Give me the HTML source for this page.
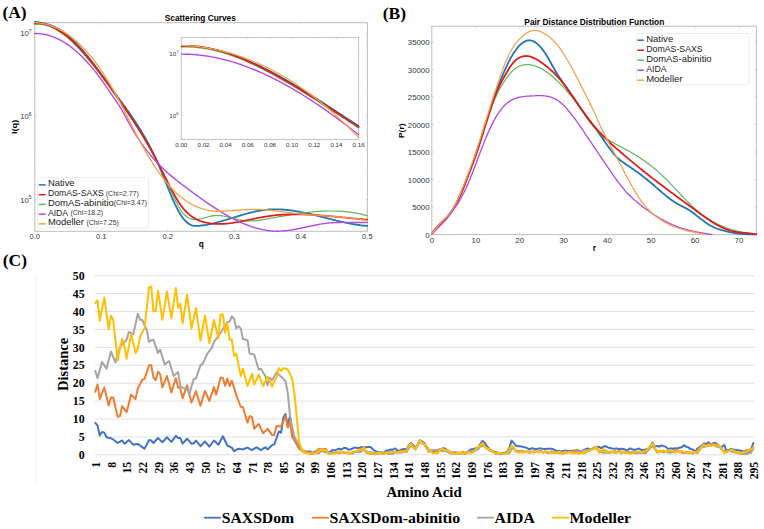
<!DOCTYPE html>
<html><head><meta charset="utf-8"><style>
html,body{margin:0;padding:0;background:#fff;}
body{width:764px;height:529px;overflow:hidden;}
svg{display:block;}
</style></head><body>
<svg width="764" height="529" viewBox="0 0 764 529">
<rect width="764" height="529" fill="#fff"/>
<text x="2.4" y="17.8" font-family='"Liberation Serif", serif' font-size="17.50" font-weight="bold" text-anchor="start" fill="#000" >(A)</text>
<text x="382.7" y="18.9" font-family='"Liberation Serif", serif' font-size="17.50" font-weight="bold" text-anchor="start" fill="#000" >(B)</text>
<text x="2.8" y="266.3" font-family='"Liberation Serif", serif' font-size="17.50" font-weight="bold" text-anchor="start" fill="#000" >(C)</text>
<rect x="34.8" y="22.7" width="332.6" height="208.6" fill="none" stroke="#bdbdbd" stroke-width="1"/>
<path d="M34.8 231.3v-2M34.8 22.7v2" stroke="#c4c4c4" stroke-width="0.7"/>
<text x="34.8" y="239.4" font-family='"Liberation Sans", sans-serif' font-size="7.60" font-weight="normal" text-anchor="middle" fill="#333" >0.0</text>
<path d="M101.3 231.3v-2M101.3 22.7v2" stroke="#c4c4c4" stroke-width="0.7"/>
<text x="101.3" y="239.4" font-family='"Liberation Sans", sans-serif' font-size="7.60" font-weight="normal" text-anchor="middle" fill="#333" >0.1</text>
<path d="M167.8 231.3v-2M167.8 22.7v2" stroke="#c4c4c4" stroke-width="0.7"/>
<text x="167.8" y="239.4" font-family='"Liberation Sans", sans-serif' font-size="7.60" font-weight="normal" text-anchor="middle" fill="#333" >0.2</text>
<path d="M234.4 231.3v-2M234.4 22.7v2" stroke="#c4c4c4" stroke-width="0.7"/>
<text x="234.4" y="239.4" font-family='"Liberation Sans", sans-serif' font-size="7.60" font-weight="normal" text-anchor="middle" fill="#333" >0.3</text>
<path d="M300.9 231.3v-2M300.9 22.7v2" stroke="#c4c4c4" stroke-width="0.7"/>
<text x="300.9" y="239.4" font-family='"Liberation Sans", sans-serif' font-size="7.60" font-weight="normal" text-anchor="middle" fill="#333" >0.4</text>
<path d="M367.4 231.3v-2M367.4 22.7v2" stroke="#c4c4c4" stroke-width="0.7"/>
<text x="367.4" y="239.4" font-family='"Liberation Sans", sans-serif' font-size="7.60" font-weight="normal" text-anchor="middle" fill="#333" >0.5</text>
<path d="M34.8 33.4h2M367.4 33.4h-2" stroke="#c4c4c4" stroke-width="0.7"/>
<text x="31.6" y="36.2" font-family='"Liberation Sans", sans-serif' font-size="7.60" font-weight="normal" text-anchor="end" fill="#333" >10<tspan font-size="5" dy="-3.2">7</tspan></text>
<path d="M34.8 116.5h2M367.4 116.5h-2" stroke="#c4c4c4" stroke-width="0.7"/>
<text x="31.6" y="119.3" font-family='"Liberation Sans", sans-serif' font-size="7.60" font-weight="normal" text-anchor="end" fill="#333" >10<tspan font-size="5" dy="-3.2">6</tspan></text>
<path d="M34.8 199.7h2M367.4 199.7h-2" stroke="#c4c4c4" stroke-width="0.7"/>
<text x="31.6" y="202.5" font-family='"Liberation Sans", sans-serif' font-size="7.60" font-weight="normal" text-anchor="end" fill="#333" >10<tspan font-size="5" dy="-3.2">5</tspan></text>
<path d="M34.8 91.5h1.2M367.4 91.5h-1.2" stroke="#d8d8d8" stroke-width="0.5"/>
<path d="M34.8 76.9h1.2M367.4 76.9h-1.2" stroke="#d8d8d8" stroke-width="0.5"/>
<path d="M34.8 66.5h1.2M367.4 66.5h-1.2" stroke="#d8d8d8" stroke-width="0.5"/>
<path d="M34.8 58.4h1.2M367.4 58.4h-1.2" stroke="#d8d8d8" stroke-width="0.5"/>
<path d="M34.8 51.8h1.2M367.4 51.8h-1.2" stroke="#d8d8d8" stroke-width="0.5"/>
<path d="M34.8 46.3h1.2M367.4 46.3h-1.2" stroke="#d8d8d8" stroke-width="0.5"/>
<path d="M34.8 41.5h1.2M367.4 41.5h-1.2" stroke="#d8d8d8" stroke-width="0.5"/>
<path d="M34.8 37.2h1.2M367.4 37.2h-1.2" stroke="#d8d8d8" stroke-width="0.5"/>
<path d="M34.8 91.5h1.2M367.4 91.5h-1.2" stroke="#d8d8d8" stroke-width="0.5"/>
<path d="M34.8 174.6h1.2M367.4 174.6h-1.2" stroke="#d8d8d8" stroke-width="0.5"/>
<path d="M34.8 76.8h1.2M367.4 76.8h-1.2" stroke="#d8d8d8" stroke-width="0.5"/>
<path d="M34.8 160.0h1.2M367.4 160.0h-1.2" stroke="#d8d8d8" stroke-width="0.5"/>
<path d="M34.8 66.4h1.2M367.4 66.4h-1.2" stroke="#d8d8d8" stroke-width="0.5"/>
<path d="M34.8 149.6h1.2M367.4 149.6h-1.2" stroke="#d8d8d8" stroke-width="0.5"/>
<path d="M34.8 58.4h1.2M367.4 58.4h-1.2" stroke="#d8d8d8" stroke-width="0.5"/>
<path d="M34.8 141.5h1.2M367.4 141.5h-1.2" stroke="#d8d8d8" stroke-width="0.5"/>
<path d="M34.8 51.8h1.2M367.4 51.8h-1.2" stroke="#d8d8d8" stroke-width="0.5"/>
<path d="M34.8 134.9h1.2M367.4 134.9h-1.2" stroke="#d8d8d8" stroke-width="0.5"/>
<path d="M34.8 46.2h1.2M367.4 46.2h-1.2" stroke="#d8d8d8" stroke-width="0.5"/>
<path d="M34.8 129.4h1.2M367.4 129.4h-1.2" stroke="#d8d8d8" stroke-width="0.5"/>
<path d="M34.8 41.4h1.2M367.4 41.4h-1.2" stroke="#d8d8d8" stroke-width="0.5"/>
<path d="M34.8 124.6h1.2M367.4 124.6h-1.2" stroke="#d8d8d8" stroke-width="0.5"/>
<path d="M34.8 37.2h1.2M367.4 37.2h-1.2" stroke="#d8d8d8" stroke-width="0.5"/>
<path d="M34.8 120.3h1.2M367.4 120.3h-1.2" stroke="#d8d8d8" stroke-width="0.5"/>
<path d="M34.8 174.7h1.2M367.4 174.7h-1.2" stroke="#d8d8d8" stroke-width="0.5"/>
<path d="M34.8 160.0h1.2M367.4 160.0h-1.2" stroke="#d8d8d8" stroke-width="0.5"/>
<path d="M34.8 149.6h1.2M367.4 149.6h-1.2" stroke="#d8d8d8" stroke-width="0.5"/>
<path d="M34.8 141.6h1.2M367.4 141.6h-1.2" stroke="#d8d8d8" stroke-width="0.5"/>
<path d="M34.8 224.7h1.2M367.4 224.7h-1.2" stroke="#d8d8d8" stroke-width="0.5"/>
<path d="M34.8 135.0h1.2M367.4 135.0h-1.2" stroke="#d8d8d8" stroke-width="0.5"/>
<path d="M34.8 218.1h1.2M367.4 218.1h-1.2" stroke="#d8d8d8" stroke-width="0.5"/>
<path d="M34.8 129.4h1.2M367.4 129.4h-1.2" stroke="#d8d8d8" stroke-width="0.5"/>
<path d="M34.8 212.6h1.2M367.4 212.6h-1.2" stroke="#d8d8d8" stroke-width="0.5"/>
<path d="M34.8 124.6h1.2M367.4 124.6h-1.2" stroke="#d8d8d8" stroke-width="0.5"/>
<path d="M34.8 207.8h1.2M367.4 207.8h-1.2" stroke="#d8d8d8" stroke-width="0.5"/>
<path d="M34.8 120.4h1.2M367.4 120.4h-1.2" stroke="#d8d8d8" stroke-width="0.5"/>
<path d="M34.8 203.5h1.2M367.4 203.5h-1.2" stroke="#d8d8d8" stroke-width="0.5"/>
<text x="200.3" y="20.7" font-family='"Liberation Sans", sans-serif' font-size="8.30" font-weight="bold" text-anchor="middle" fill="#000" textLength="71" lengthAdjust="spacingAndGlyphs">Scattering Curves</text>
<text x="201.2" y="247.3" font-family='"Liberation Sans", sans-serif' font-size="8.30" font-weight="bold" text-anchor="middle" fill="#000" >q</text>
<text transform="translate(17.2 126.9) rotate(-90)" font-family='"Liberation Sans", sans-serif' font-size="8.0" font-weight="bold" text-anchor="middle" textLength="14.2" lengthAdjust="spacingAndGlyphs">I(q)</text>
<g fill="none" stroke-linejoin="round" stroke-linecap="round">
<path d="M34.6 21.8L35.8 21.9L37.0 22.1L38.2 22.2L39.4 22.4L40.6 22.6L41.8 22.8L43.0 23.1L44.2 23.3L45.4 23.6L46.6 24.0L47.8 24.3L49.0 24.7L50.2 25.1L51.4 25.6L52.6 26.1L53.8 26.6L55.0 27.1L56.2 27.7L57.4 28.3L58.6 29.0L59.8 29.7L61.0 30.4L62.2 31.2L63.4 32.0L64.6 32.9L65.8 33.8L67.0 34.8L68.2 35.7L69.4 36.8L70.6 37.8L71.8 38.9L73.0 40.1L74.2 41.3L75.4 42.5L76.6 43.7L77.8 45.0L79.0 46.3L80.2 47.6L81.4 49.0L82.6 50.4L83.8 51.8L85.0 53.2L86.2 54.7L87.4 56.1L88.6 57.6L89.8 59.2L91.1 60.7L92.3 62.2L93.5 63.8L94.7 65.4L95.9 67.0L97.1 68.6L98.3 70.2L99.5 71.9L100.7 73.5L101.9 75.2L103.1 76.8L104.3 78.5L105.5 80.2L106.7 81.8L107.9 83.5L109.1 85.2L110.3 86.8L111.5 88.5L112.7 90.2L113.9 91.8L115.1 93.5L116.3 95.1L117.5 96.8L118.7 98.4L119.9 100.1L121.1 101.7L122.3 103.3L123.5 105.0L124.7 106.6L125.9 108.3L127.1 110.0L128.3 111.6L129.5 113.3L130.7 115.0L131.9 116.8L133.1 118.5L134.3 120.3L135.5 122.1L136.7 123.9L137.9 125.8L139.1 127.7L140.3 129.6L141.5 131.6L142.7 133.6L143.9 135.7L145.1 137.8L146.3 139.9L147.5 142.1L148.7 144.3L149.9 146.6L151.1 149.0L152.3 151.4L153.5 153.8L154.7 156.4L155.9 158.9L157.1 161.6L158.3 164.3L159.5 167.1L160.7 170.0L161.9 172.9L163.1 175.8L164.3 178.8L165.5 181.8L166.7 184.7L167.9 187.7L169.1 190.6L170.3 193.5L171.5 196.3L172.7 199.1L173.9 201.8L175.1 204.4L176.3 206.8L177.5 209.2L178.7 211.4L179.9 213.5L181.1 215.5L182.3 217.2L183.5 218.8L184.7 220.2L185.9 221.5L187.1 222.5L188.3 223.5L189.5 224.2L190.7 224.8L191.9 225.3L193.1 225.6L194.3 225.8L195.5 225.8L196.7 225.9L197.9 225.8L199.1 225.8L200.3 225.7L201.6 225.5L202.8 225.4L204.0 225.2L205.2 225.1L206.4 224.9L207.6 224.6L208.8 224.4L210.0 224.1L211.2 223.9L212.4 223.6L213.6 223.3L214.8 223.0L216.0 222.7L217.2 222.4L218.4 222.0L219.6 221.7L220.8 221.4L222.0 221.0L223.2 220.7L224.4 220.3L225.6 220.0L226.8 219.6L228.0 219.2L229.2 218.9L230.4 218.5L231.6 218.1L232.8 217.8L234.0 217.4L235.2 217.0L236.4 216.7L237.6 216.3L238.8 215.9L240.0 215.6L241.2 215.2L242.4 214.9L243.6 214.5L244.8 214.2L246.0 213.9L247.2 213.5L248.4 213.2L249.6 212.9L250.8 212.6L252.0 212.3L253.2 212.0L254.4 211.7L255.6 211.5L256.8 211.2L258.0 211.0L259.2 210.8L260.4 210.6L261.6 210.4L262.8 210.2L264.0 210.0L265.2 209.9L266.4 209.8L267.6 209.6L268.8 209.5L270.0 209.5L271.2 209.4L272.4 209.3L273.6 209.3L274.8 209.3L276.0 209.3L277.2 209.3L278.4 209.3L279.6 209.4L280.8 209.4L282.0 209.5L283.2 209.6L284.4 209.7L285.6 209.8L286.8 209.9L288.0 210.0L289.2 210.2L290.4 210.3L291.6 210.5L292.8 210.7L294.0 210.9L295.2 211.1L296.4 211.3L297.6 211.5L298.8 211.7L300.0 211.9L301.2 212.1L302.4 212.4L303.6 212.6L304.8 212.9L306.0 213.1L307.2 213.4L308.4 213.7L309.6 214.0L310.8 214.2L312.1 214.5L313.3 214.8L314.5 215.1L315.7 215.4L316.9 215.7L318.1 216.0L319.3 216.3L320.5 216.6L321.7 216.9L322.9 217.2L324.1 217.5L325.3 217.8L326.5 218.1L327.7 218.4L328.9 218.7L330.1 219.0L331.3 219.3L332.5 219.7L333.7 219.9L334.9 220.2L336.1 220.5L337.3 220.8L338.5 221.1L339.7 221.4L340.9 221.7L342.1 221.9L343.3 222.2L344.5 222.5L345.7 222.7L346.9 223.0L348.1 223.2L349.3 223.5L350.5 223.7L351.7 223.9L352.9 224.1L354.1 224.3L355.3 224.5L356.5 224.7L357.7 224.9L358.9 225.0L360.1 225.2L361.3 225.3L362.5 225.5L363.7 225.6L364.9 225.7L366.1 225.8L367.3 225.9" stroke="#1f77b4" stroke-width="1.8"/>
<path d="M34.6 24.5L35.8 24.3L37.0 24.3L38.2 24.3L39.4 24.3L40.6 24.4L41.8 24.5L43.0 24.7L44.2 24.9L45.4 25.2L46.6 25.5L47.8 25.9L49.0 26.3L50.2 26.8L51.4 27.3L52.6 27.8L53.8 28.4L55.0 29.0L56.2 29.7L57.4 30.4L58.6 31.1L59.8 31.9L61.0 32.7L62.2 33.5L63.4 34.4L64.6 35.3L65.8 36.3L67.0 37.3L68.2 38.3L69.4 39.3L70.6 40.4L71.8 41.5L73.0 42.7L74.2 43.8L75.4 45.0L76.6 46.3L77.8 47.5L79.0 48.8L80.2 50.1L81.4 51.4L82.6 52.7L83.8 54.1L85.0 55.5L86.2 56.9L87.4 58.3L88.6 59.8L89.8 61.3L91.1 62.8L92.3 64.3L93.5 65.8L94.7 67.3L95.9 68.9L97.1 70.4L98.3 72.0L99.5 73.6L100.7 75.2L101.9 76.8L103.1 78.4L104.3 80.1L105.5 81.7L106.7 83.4L107.9 85.0L109.1 86.7L110.3 88.4L111.5 90.1L112.7 91.7L113.9 93.4L115.1 95.1L116.3 96.8L117.5 98.5L118.7 100.2L119.9 101.9L121.1 103.6L122.3 105.3L123.5 107.0L124.7 108.8L125.9 110.5L127.1 112.2L128.3 114.0L129.5 115.7L130.7 117.5L131.9 119.3L133.1 121.1L134.3 122.9L135.5 124.8L136.7 126.6L137.9 128.5L139.1 130.4L140.3 132.3L141.5 134.3L142.7 136.2L143.9 138.2L145.1 140.2L146.3 142.3L147.5 144.3L148.7 146.4L149.9 148.6L151.1 150.7L152.3 152.9L153.5 155.1L154.7 157.4L155.9 159.7L157.1 162.0L158.3 164.3L159.5 166.7L160.7 169.2L161.9 171.6L163.1 174.1L164.3 176.6L165.5 179.2L166.7 181.7L167.9 184.3L169.1 186.9L170.3 189.5L171.5 192.1L172.7 194.6L173.9 197.2L175.1 199.7L176.3 202.1L177.5 204.5L178.7 206.7L179.9 208.7L181.1 210.6L182.3 212.3L183.5 213.7L184.7 215.0L185.9 216.1L187.1 217.0L188.3 217.7L189.5 218.3L190.7 218.8L191.9 219.1L193.1 219.3L194.3 219.4L195.5 219.5L196.7 219.4L197.9 219.3L199.1 219.1L200.3 218.9L201.6 218.7L202.8 218.4L204.0 218.0L205.2 217.7L206.4 217.4L207.6 217.0L208.8 216.7L210.0 216.4L211.2 216.1L212.4 215.9L213.6 215.7L214.8 215.6L216.0 215.5L217.2 215.5L218.4 215.5L219.6 215.6L220.8 215.7L222.0 215.8L223.2 216.0L224.4 216.2L225.6 216.4L226.8 216.6L228.0 216.9L229.2 217.2L230.4 217.5L231.6 217.8L232.8 218.1L234.0 218.4L235.2 218.7L236.4 219.0L237.6 219.3L238.8 219.6L240.0 219.8L241.2 220.1L242.4 220.3L243.6 220.5L244.8 220.7L246.0 220.8L247.2 220.9L248.4 220.9L249.6 221.0L250.8 221.0L252.0 220.9L253.2 220.9L254.4 220.8L255.6 220.7L256.8 220.6L258.0 220.4L259.2 220.3L260.4 220.1L261.6 219.9L262.8 219.7L264.0 219.5L265.2 219.3L266.4 219.1L267.6 218.9L268.8 218.6L270.0 218.4L271.2 218.2L272.4 218.0L273.6 217.8L274.8 217.6L276.0 217.4L277.2 217.1L278.4 216.9L279.6 216.7L280.8 216.5L282.0 216.3L283.2 216.1L284.4 215.9L285.6 215.7L286.8 215.5L288.0 215.3L289.2 215.1L290.4 214.9L291.6 214.7L292.8 214.5L294.0 214.3L295.2 214.1L296.4 213.9L297.6 213.7L298.8 213.6L300.0 213.4L301.2 213.2L302.4 213.1L303.6 212.9L304.8 212.8L306.0 212.6L307.2 212.5L308.4 212.3L309.6 212.2L310.8 212.1L312.1 212.0L313.3 211.9L314.5 211.7L315.7 211.6L316.9 211.5L318.1 211.5L319.3 211.4L320.5 211.3L321.7 211.2L322.9 211.2L324.1 211.1L325.3 211.1L326.5 211.0L327.7 211.0L328.9 211.0L330.1 211.0L331.3 211.0L332.5 211.0L333.7 211.0L334.9 211.0L336.1 211.0L337.3 211.1L338.5 211.1L339.7 211.2L340.9 211.3L342.1 211.4L343.3 211.4L344.5 211.6L345.7 211.7L346.9 211.8L348.1 211.9L349.3 212.1L350.5 212.2L351.7 212.4L352.9 212.6L354.1 212.8L355.3 213.0L356.5 213.2L357.7 213.4L358.9 213.7L360.1 213.9L361.3 214.2L362.5 214.5L363.7 214.8L364.9 215.1L366.1 215.4L367.3 215.8" stroke="#5cb85c" stroke-width="1.2"/>
<path d="M34.6 23.0L35.8 23.0L37.0 23.0L38.2 23.1L39.4 23.2L40.6 23.3L41.8 23.5L43.0 23.8L44.2 24.0L45.4 24.3L46.6 24.7L47.8 25.1L49.0 25.5L50.2 25.9L51.4 26.4L52.6 27.0L53.8 27.5L55.0 28.1L56.2 28.8L57.4 29.4L58.6 30.2L59.8 30.9L61.0 31.7L62.2 32.5L63.4 33.4L64.6 34.3L65.8 35.2L67.0 36.1L68.2 37.1L69.4 38.2L70.6 39.2L71.8 40.3L73.0 41.4L74.2 42.6L75.4 43.8L76.6 45.0L77.8 46.2L79.0 47.5L80.2 48.7L81.4 50.1L82.6 51.4L83.8 52.7L85.0 54.1L86.2 55.5L87.4 57.0L88.6 58.4L89.8 59.9L91.1 61.4L92.3 62.9L93.5 64.4L94.7 65.9L95.9 67.5L97.1 69.0L98.3 70.6L99.5 72.2L100.7 73.8L101.9 75.5L103.1 77.1L104.3 78.8L105.5 80.4L106.7 82.1L107.9 83.8L109.1 85.4L110.3 87.1L111.5 88.8L112.7 90.5L113.9 92.2L115.1 94.0L116.3 95.7L117.5 97.4L118.7 99.1L119.9 100.8L121.1 102.6L122.3 104.3L123.5 106.1L124.7 107.8L125.9 109.6L127.1 111.3L128.3 113.1L129.5 114.9L130.7 116.7L131.9 118.5L133.1 120.4L134.3 122.2L135.5 124.1L136.7 126.0L137.9 127.8L139.1 129.8L140.3 131.7L141.5 133.6L142.7 135.6L143.9 137.6L145.1 139.6L146.3 141.7L147.5 143.7L148.7 145.8L149.9 147.9L151.1 150.0L152.3 152.2L153.5 154.4L154.7 156.6L155.9 158.9L157.1 161.2L158.3 163.5L159.5 165.8L160.7 168.2L161.9 170.6L163.1 173.0L164.3 175.4L165.5 177.8L166.7 180.2L167.9 182.6L169.1 184.9L170.3 187.3L171.5 189.6L172.7 191.8L173.9 194.0L175.1 196.1L176.3 198.2L177.5 200.2L178.7 202.1L179.9 203.9L181.1 205.6L182.3 207.2L183.5 208.7L184.7 210.1L185.9 211.4L187.1 212.6L188.3 213.7L189.5 214.7L190.7 215.7L191.9 216.6L193.1 217.4L194.3 218.1L195.5 218.8L196.7 219.4L197.9 220.0L199.1 220.5L200.3 221.0L201.6 221.4L202.8 221.8L204.0 222.2L205.2 222.5L206.4 222.7L207.6 223.0L208.8 223.2L210.0 223.4L211.2 223.5L212.4 223.7L213.6 223.8L214.8 223.8L216.0 223.9L217.2 223.9L218.4 224.0L219.6 223.9L220.8 223.9L222.0 223.9L223.2 223.8L224.4 223.8L225.6 223.7L226.8 223.6L228.0 223.5L229.2 223.3L230.4 223.2L231.6 223.0L232.8 222.9L234.0 222.7L235.2 222.5L236.4 222.3L237.6 222.1L238.8 221.9L240.0 221.7L241.2 221.4L242.4 221.2L243.6 221.0L244.8 220.7L246.0 220.5L247.2 220.2L248.4 220.0L249.6 219.7L250.8 219.5L252.0 219.2L253.2 219.0L254.4 218.7L255.6 218.5L256.8 218.2L258.0 218.0L259.2 217.7L260.4 217.5L261.6 217.3L262.8 217.1L264.0 216.9L265.2 216.7L266.4 216.5L267.6 216.3L268.8 216.1L270.0 215.9L271.2 215.8L272.4 215.6L273.6 215.5L274.8 215.3L276.0 215.2L277.2 215.1L278.4 215.0L279.6 214.9L280.8 214.8L282.0 214.7L283.2 214.7L284.4 214.6L285.6 214.5L286.8 214.5L288.0 214.4L289.2 214.4L290.4 214.4L291.6 214.3L292.8 214.3L294.0 214.3L295.2 214.3L296.4 214.3L297.6 214.3L298.8 214.3L300.0 214.4L301.2 214.4L302.4 214.4L303.6 214.4L304.8 214.5L306.0 214.5L307.2 214.6L308.4 214.6L309.6 214.7L310.8 214.7L312.1 214.8L313.3 214.9L314.5 215.0L315.7 215.0L316.9 215.1L318.1 215.2L319.3 215.3L320.5 215.4L321.7 215.5L322.9 215.6L324.1 215.7L325.3 215.8L326.5 215.9L327.7 216.0L328.9 216.1L330.1 216.2L331.3 216.3L332.5 216.4L333.7 216.5L334.9 216.6L336.1 216.8L337.3 216.9L338.5 217.0L339.7 217.1L340.9 217.2L342.1 217.3L343.3 217.5L344.5 217.6L345.7 217.7L346.9 217.8L348.1 217.9L349.3 218.1L350.5 218.2L351.7 218.3L352.9 218.4L354.1 218.5L355.3 218.6L356.5 218.7L357.7 218.8L358.9 219.0L360.1 219.1L361.3 219.2L362.5 219.3L363.7 219.4L364.9 219.5L366.1 219.5L367.3 219.6" stroke="#e01b1b" stroke-width="1.75"/>
<path d="M34.6 33.5L35.8 33.5L37.0 33.5L38.2 33.6L39.4 33.6L40.6 33.7L41.8 33.9L43.0 34.1L44.2 34.3L45.4 34.5L46.6 34.8L47.8 35.1L49.0 35.4L50.2 35.8L51.4 36.2L52.6 36.6L53.8 37.1L55.0 37.5L56.2 38.1L57.4 38.6L58.6 39.2L59.8 39.8L61.0 40.4L62.2 41.1L63.4 41.8L64.6 42.5L65.8 43.3L67.0 44.1L68.2 44.9L69.4 45.8L70.6 46.7L71.8 47.6L73.0 48.6L74.2 49.5L75.4 50.5L76.6 51.6L77.8 52.7L79.0 53.8L80.2 54.9L81.4 56.1L82.6 57.3L83.8 58.5L85.0 59.7L86.2 61.0L87.4 62.3L88.6 63.7L89.8 65.1L91.1 66.5L92.3 67.9L93.5 69.4L94.7 70.9L95.9 72.4L97.1 74.0L98.3 75.6L99.5 77.2L100.7 78.8L101.9 80.5L103.1 82.2L104.3 83.9L105.5 85.7L106.7 87.4L107.9 89.2L109.1 90.9L110.3 92.7L111.5 94.4L112.7 96.1L113.9 97.8L115.1 99.5L116.3 101.3L117.5 103.1L118.7 104.9L119.9 106.8L121.1 108.7L122.3 110.8L123.5 112.9L124.7 115.1L125.9 117.3L127.1 119.6L128.3 121.8L129.5 124.0L130.7 126.2L131.9 128.3L133.1 130.3L134.3 132.3L135.5 134.3L136.7 136.2L137.9 138.0L139.1 139.9L140.3 141.6L141.5 143.4L142.7 145.0L143.9 146.7L145.1 148.3L146.3 149.9L147.5 151.4L148.7 152.9L149.9 154.4L151.1 155.8L152.3 157.2L153.5 158.6L154.7 159.9L155.9 161.2L157.1 162.5L158.3 163.8L159.5 165.0L160.7 166.2L161.9 167.4L163.1 168.6L164.3 169.7L165.5 170.8L166.7 171.9L167.9 173.0L169.1 174.0L170.3 175.1L171.5 176.1L172.7 177.1L173.9 178.1L175.1 179.1L176.3 180.0L177.5 181.0L178.7 181.9L179.9 182.9L181.1 183.8L182.3 184.7L183.5 185.6L184.7 186.5L185.9 187.4L187.1 188.3L188.3 189.2L189.5 190.1L190.7 191.0L191.9 191.9L193.1 192.8L194.3 193.7L195.5 194.6L196.7 195.4L197.9 196.3L199.1 197.2L200.3 198.0L201.6 198.9L202.8 199.7L204.0 200.6L205.2 201.4L206.4 202.3L207.6 203.1L208.8 203.9L210.0 204.7L211.2 205.5L212.4 206.3L213.6 207.1L214.8 207.9L216.0 208.7L217.2 209.4L218.4 210.2L219.6 210.9L220.8 211.7L222.0 212.4L223.2 213.1L224.4 213.8L225.6 214.5L226.8 215.2L228.0 215.9L229.2 216.6L230.4 217.2L231.6 217.8L232.8 218.5L234.0 219.1L235.2 219.7L236.4 220.3L237.6 220.9L238.8 221.4L240.0 222.0L241.2 222.5L242.4 223.1L243.6 223.6L244.8 224.1L246.0 224.6L247.2 225.0L248.4 225.5L249.6 225.9L250.8 226.3L252.0 226.8L253.2 227.1L254.4 227.5L255.6 227.9L256.8 228.2L258.0 228.5L259.2 228.8L260.4 229.1L261.6 229.4L262.8 229.7L264.0 229.9L265.2 230.1L266.4 230.3L267.6 230.5L268.8 230.6L270.0 230.8L271.2 230.9L272.4 231.0L273.6 231.1L274.8 231.1L276.0 231.2L277.2 231.2L278.4 231.2L279.6 231.1L280.8 231.1L282.0 231.0L283.2 230.9L284.4 230.8L285.6 230.7L286.8 230.6L288.0 230.4L289.2 230.3L290.4 230.1L291.6 229.9L292.8 229.7L294.0 229.5L295.2 229.3L296.4 229.0L297.6 228.8L298.8 228.6L300.0 228.3L301.2 228.1L302.4 227.8L303.6 227.6L304.8 227.3L306.0 227.0L307.2 226.8L308.4 226.5L309.6 226.3L310.8 226.0L312.1 225.8L313.3 225.5L314.5 225.3L315.7 225.0L316.9 224.8L318.1 224.6L319.3 224.3L320.5 224.1L321.7 223.9L322.9 223.8L324.1 223.6L325.3 223.4L326.5 223.3L327.7 223.1L328.9 223.0L330.1 222.9L331.3 222.8L332.5 222.7L333.7 222.7L334.9 222.6L336.1 222.6L337.3 222.5L338.5 222.5L339.7 222.5L340.9 222.5L342.1 222.4L343.3 222.4L344.5 222.4L345.7 222.4L346.9 222.5L348.1 222.5L349.3 222.5L350.5 222.5L351.7 222.5L352.9 222.5L354.1 222.5L355.3 222.5L356.5 222.5L357.7 222.5L358.9 222.5L360.1 222.5L361.3 222.5L362.5 222.5L363.7 222.5L364.9 222.5L366.1 222.4L367.3 222.4" stroke="#b44be1" stroke-width="1.4"/>
<path d="M34.6 22.5L35.8 22.6L37.0 22.7L38.2 22.8L39.4 22.9L40.6 23.1L41.8 23.3L43.0 23.5L44.2 23.8L45.4 24.1L46.6 24.4L47.8 24.7L49.0 25.1L50.2 25.5L51.4 25.9L52.6 26.3L53.8 26.8L55.0 27.3L56.2 27.8L57.4 28.4L58.6 29.0L59.8 29.6L61.0 30.3L62.2 30.9L63.4 31.7L64.6 32.4L65.8 33.2L67.0 34.0L68.2 34.8L69.4 35.7L70.6 36.6L71.8 37.5L73.0 38.4L74.2 39.4L75.4 40.5L76.6 41.5L77.8 42.6L79.0 43.7L80.2 44.9L81.4 46.0L82.6 47.3L83.8 48.5L85.0 49.8L86.2 51.1L87.4 52.5L88.6 53.8L89.8 55.3L91.1 56.7L92.3 58.2L93.5 59.7L94.7 61.3L95.9 62.9L97.1 64.5L98.3 66.2L99.5 67.9L100.7 69.6L101.9 71.4L103.1 73.2L104.3 75.0L105.5 76.9L106.7 78.8L107.9 80.8L109.1 82.8L110.3 84.8L111.5 86.8L112.7 88.9L113.9 91.1L115.1 93.2L116.3 95.4L117.5 97.6L118.7 99.9L119.9 102.2L121.1 104.4L122.3 106.8L123.5 109.1L124.7 111.5L125.9 113.8L127.1 116.2L128.3 118.6L129.5 121.0L130.7 123.4L131.9 125.8L133.1 128.2L134.3 130.5L135.5 132.9L136.7 135.2L137.9 137.5L139.1 139.8L140.3 142.0L141.5 144.2L142.7 146.4L143.9 148.5L145.1 150.6L146.3 152.7L147.5 154.8L148.7 156.8L149.9 158.7L151.1 160.7L152.3 162.6L153.5 164.5L154.7 166.3L155.9 168.1L157.1 169.8L158.3 171.6L159.5 173.3L160.7 174.9L161.9 176.5L163.1 178.1L164.3 179.7L165.5 181.2L166.7 182.6L167.9 184.0L169.1 185.4L170.3 186.8L171.5 188.1L172.7 189.3L173.9 190.5L175.1 191.7L176.3 192.9L177.5 194.0L178.7 195.0L179.9 196.1L181.1 197.1L182.3 198.0L183.5 198.9L184.7 199.8L185.9 200.7L187.1 201.5L188.3 202.2L189.5 203.0L190.7 203.7L191.9 204.3L193.1 205.0L194.3 205.6L195.5 206.2L196.7 206.7L197.9 207.2L199.1 207.7L200.3 208.1L201.6 208.5L202.8 208.9L204.0 209.2L205.2 209.6L206.4 209.9L207.6 210.1L208.8 210.3L210.0 210.6L211.2 210.7L212.4 210.9L213.6 211.0L214.8 211.1L216.0 211.2L217.2 211.2L218.4 211.2L219.6 211.2L220.8 211.2L222.0 211.2L223.2 211.2L224.4 211.1L225.6 211.0L226.8 211.0L228.0 210.9L229.2 210.8L230.4 210.7L231.6 210.6L232.8 210.5L234.0 210.4L235.2 210.3L236.4 210.2L237.6 210.1L238.8 210.0L240.0 209.9L241.2 209.8L242.4 209.7L243.6 209.6L244.8 209.6L246.0 209.5L247.2 209.5L248.4 209.4L249.6 209.4L250.8 209.4L252.0 209.4L253.2 209.3L254.4 209.3L255.6 209.4L256.8 209.4L258.0 209.4L259.2 209.5L260.4 209.5L261.6 209.6L262.8 209.6L264.0 209.7L265.2 209.8L266.4 209.9L267.6 210.0L268.8 210.1L270.0 210.2L271.2 210.4L272.4 210.5L273.6 210.6L274.8 210.8L276.0 210.9L277.2 211.0L278.4 211.2L279.6 211.3L280.8 211.5L282.0 211.7L283.2 211.8L284.4 212.0L285.6 212.1L286.8 212.3L288.0 212.4L289.2 212.6L290.4 212.7L291.6 212.9L292.8 213.1L294.0 213.2L295.2 213.3L296.4 213.5L297.6 213.6L298.8 213.8L300.0 213.9L301.2 214.0L302.4 214.1L303.6 214.2L304.8 214.4L306.0 214.5L307.2 214.6L308.4 214.7L309.6 214.8L310.8 214.9L312.1 215.0L313.3 215.1L314.5 215.1L315.7 215.2L316.9 215.3L318.1 215.4L319.3 215.5L320.5 215.6L321.7 215.7L322.9 215.7L324.1 215.8L325.3 215.9L326.5 216.0L327.7 216.1L328.9 216.2L330.1 216.2L331.3 216.3L332.5 216.4L333.7 216.5L334.9 216.6L336.1 216.7L337.3 216.8L338.5 216.9L339.7 217.0L340.9 217.1L342.1 217.2L343.3 217.3L344.5 217.4L345.7 217.6L346.9 217.7L348.1 217.8L349.3 217.9L350.5 218.1L351.7 218.2L352.9 218.4L354.1 218.5L355.3 218.7L356.5 218.9L357.7 219.0L358.9 219.2L360.1 219.4L361.3 219.6L362.5 219.8L363.7 220.0L364.9 220.2L366.1 220.4L367.3 220.7" stroke="#f5a24b" stroke-width="1.35"/>
</g>
<rect x="181.3" y="37.6" width="177.3" height="102.0" fill="#fff" stroke="#bdbdbd" stroke-width="0.9"/>
<path d="M181.3 139.6v-1.5M181.3 37.6v1.5" stroke="#c4c4c4" stroke-width="0.6"/>
<text x="181.3" y="146.8" font-family='"Liberation Sans", sans-serif' font-size="6.20" font-weight="normal" text-anchor="middle" fill="#333" >0.00</text>
<path d="M203.5 139.6v-1.5M203.5 37.6v1.5" stroke="#c4c4c4" stroke-width="0.6"/>
<text x="203.5" y="146.8" font-family='"Liberation Sans", sans-serif' font-size="6.20" font-weight="normal" text-anchor="middle" fill="#333" >0.02</text>
<path d="M225.6 139.6v-1.5M225.6 37.6v1.5" stroke="#c4c4c4" stroke-width="0.6"/>
<text x="225.6" y="146.8" font-family='"Liberation Sans", sans-serif' font-size="6.20" font-weight="normal" text-anchor="middle" fill="#333" >0.04</text>
<path d="M247.8 139.6v-1.5M247.8 37.6v1.5" stroke="#c4c4c4" stroke-width="0.6"/>
<text x="247.8" y="146.8" font-family='"Liberation Sans", sans-serif' font-size="6.20" font-weight="normal" text-anchor="middle" fill="#333" >0.06</text>
<path d="M270.0 139.6v-1.5M270.0 37.6v1.5" stroke="#c4c4c4" stroke-width="0.6"/>
<text x="270.0" y="146.8" font-family='"Liberation Sans", sans-serif' font-size="6.20" font-weight="normal" text-anchor="middle" fill="#333" >0.08</text>
<path d="M292.1 139.6v-1.5M292.1 37.6v1.5" stroke="#c4c4c4" stroke-width="0.6"/>
<text x="292.1" y="146.8" font-family='"Liberation Sans", sans-serif' font-size="6.20" font-weight="normal" text-anchor="middle" fill="#333" >0.10</text>
<path d="M314.3 139.6v-1.5M314.3 37.6v1.5" stroke="#c4c4c4" stroke-width="0.6"/>
<text x="314.3" y="146.8" font-family='"Liberation Sans", sans-serif' font-size="6.20" font-weight="normal" text-anchor="middle" fill="#333" >0.12</text>
<path d="M336.4 139.6v-1.5M336.4 37.6v1.5" stroke="#c4c4c4" stroke-width="0.6"/>
<text x="336.4" y="146.8" font-family='"Liberation Sans", sans-serif' font-size="6.20" font-weight="normal" text-anchor="middle" fill="#333" >0.14</text>
<path d="M358.6 139.6v-1.5M358.6 37.6v1.5" stroke="#c4c4c4" stroke-width="0.6"/>
<text x="358.6" y="146.8" font-family='"Liberation Sans", sans-serif' font-size="6.20" font-weight="normal" text-anchor="middle" fill="#333" >0.16</text>
<path d="M181.3 53.6h1.5M358.6 53.6h-1.5" stroke="#c4c4c4" stroke-width="0.6"/>
<text x="178.6" y="55.9" font-family='"Liberation Sans", sans-serif' font-size="6.20" font-weight="normal" text-anchor="end" fill="#333" >10<tspan font-size="4.2" dy="-2.6">7</tspan></text>
<path d="M181.3 115.3h1.5M358.6 115.3h-1.5" stroke="#c4c4c4" stroke-width="0.6"/>
<text x="178.6" y="117.6" font-family='"Liberation Sans", sans-serif' font-size="6.20" font-weight="normal" text-anchor="end" fill="#333" >10<tspan font-size="4.2" dy="-2.6">6</tspan></text>
<g fill="none" stroke-linejoin="round" stroke-linecap="round">
<path d="M181.6 45.8L182.8 45.8L184.0 45.8L185.2 45.8L186.4 45.9L187.6 45.9L188.8 45.9L190.0 46.0L191.2 46.1L192.4 46.2L193.6 46.2L194.8 46.3L196.0 46.5L197.3 46.6L198.5 46.7L199.7 46.9L200.9 47.0L202.1 47.2L203.3 47.4L204.5 47.6L205.7 47.8L206.9 48.0L208.1 48.2L209.3 48.4L210.5 48.7L211.7 48.9L212.9 49.2L214.1 49.5L215.3 49.8L216.5 50.0L217.7 50.3L218.9 50.7L220.1 51.0L221.3 51.3L222.5 51.6L223.7 52.0L224.9 52.3L226.2 52.7L227.4 53.1L228.6 53.5L229.8 53.9L231.0 54.3L232.2 54.7L233.4 55.1L234.6 55.5L235.8 55.9L237.0 56.4L238.2 56.8L239.4 57.3L240.6 57.7L241.8 58.2L243.0 58.7L244.2 59.2L245.4 59.7L246.6 60.2L247.8 60.7L249.0 61.2L250.2 61.7L251.4 62.2L252.6 62.8L253.8 63.3L255.0 63.9L256.3 64.4L257.5 65.0L258.7 65.6L259.9 66.1L261.1 66.7L262.3 67.3L263.5 67.9L264.7 68.5L265.9 69.1L267.1 69.7L268.3 70.3L269.5 71.0L270.7 71.6L271.9 72.2L273.1 72.9L274.3 73.5L275.5 74.2L276.7 74.8L277.9 75.5L279.1 76.1L280.3 76.8L281.5 77.5L282.7 78.2L283.9 78.8L285.2 79.5L286.4 80.2L287.6 80.9L288.8 81.6L290.0 82.3L291.2 83.0L292.4 83.7L293.6 84.4L294.8 85.2L296.0 85.9L297.2 86.6L298.4 87.3L299.6 88.1L300.8 88.8L302.0 89.5L303.2 90.3L304.4 91.0L305.6 91.8L306.8 92.5L308.0 93.3L309.2 94.0L310.4 94.8L311.6 95.5L312.8 96.3L314.0 97.1L315.3 97.8L316.5 98.6L317.7 99.4L318.9 100.2L320.1 100.9L321.3 101.7L322.5 102.5L323.7 103.3L324.9 104.0L326.1 104.8L327.3 105.6L328.5 106.4L329.7 107.2L330.9 107.9L332.1 108.7L333.3 109.5L334.5 110.3L335.7 111.1L336.9 111.9L338.1 112.7L339.3 113.5L340.5 114.3L341.7 115.0L342.9 115.8L344.2 116.6L345.4 117.4L346.6 118.2L347.8 119.0L349.0 119.8L350.2 120.6L351.4 121.3L352.6 122.1L353.8 122.9L355.0 123.7L356.2 124.5L357.4 125.3L358.6 126.0" stroke="#1f77b4" stroke-width="1.7"/>
<path d="M181.6 47.1L182.8 47.0L184.0 47.0L185.2 47.0L186.4 47.0L187.6 47.0L188.8 47.0L190.0 47.1L191.2 47.1L192.4 47.2L193.6 47.3L194.8 47.4L196.0 47.5L197.3 47.6L198.5 47.7L199.7 47.9L200.9 48.0L202.1 48.2L203.3 48.4L204.5 48.6L205.7 48.8L206.9 49.0L208.1 49.2L209.3 49.4L210.5 49.7L211.7 49.9L212.9 50.2L214.1 50.5L215.3 50.8L216.5 51.1L217.7 51.4L218.9 51.7L220.1 52.0L221.3 52.4L222.5 52.7L223.7 53.1L224.9 53.5L226.2 53.8L227.4 54.2L228.6 54.6L229.8 55.0L231.0 55.5L232.2 55.9L233.4 56.3L234.6 56.8L235.8 57.2L237.0 57.7L238.2 58.1L239.4 58.6L240.6 59.1L241.8 59.6L243.0 60.1L244.2 60.6L245.4 61.1L246.6 61.6L247.8 62.2L249.0 62.7L250.2 63.2L251.4 63.8L252.6 64.3L253.8 64.9L255.0 65.5L256.3 66.1L257.5 66.6L258.7 67.2L259.9 67.8L261.1 68.4L262.3 69.0L263.5 69.6L264.7 70.3L265.9 70.9L267.1 71.5L268.3 72.1L269.5 72.8L270.7 73.4L271.9 74.1L273.1 74.7L274.3 75.4L275.5 76.0L276.7 76.7L277.9 77.4L279.1 78.1L280.3 78.7L281.5 79.4L282.7 80.1L283.9 80.8L285.2 81.5L286.4 82.2L287.6 82.9L288.8 83.6L290.0 84.3L291.2 85.0L292.4 85.7L293.6 86.4L294.8 87.2L296.0 87.9L297.2 88.6L298.4 89.4L299.6 90.1L300.8 90.8L302.0 91.6L303.2 92.3L304.4 93.0L305.6 93.8L306.8 94.5L308.0 95.3L309.2 96.1L310.4 96.8L311.6 97.6L312.8 98.3L314.0 99.1L315.3 99.9L316.5 100.6L317.7 101.4L318.9 102.2L320.1 102.9L321.3 103.7L322.5 104.5L323.7 105.3L324.9 106.0L326.1 106.8L327.3 107.6L328.5 108.4L329.7 109.2L330.9 109.9L332.1 110.7L333.3 111.5L334.5 112.3L335.7 113.1L336.9 113.9L338.1 114.7L339.3 115.4L340.5 116.2L341.7 117.0L342.9 117.8L344.2 118.6L345.4 119.4L346.6 120.2L347.8 121.0L349.0 121.8L350.2 122.5L351.4 123.3L352.6 124.1L353.8 124.9L355.0 125.7L356.2 126.5L357.4 127.3L358.6 128.1" stroke="#5cb85c" stroke-width="1.1"/>
<path d="M181.6 46.0L182.8 45.9L184.0 45.9L185.2 45.9L186.4 45.9L187.6 45.9L188.8 45.9L190.0 46.0L191.2 46.0L192.4 46.1L193.6 46.2L194.8 46.3L196.0 46.4L197.3 46.5L198.5 46.6L199.7 46.8L200.9 46.9L202.1 47.1L203.3 47.3L204.5 47.5L205.7 47.7L206.9 47.9L208.1 48.1L209.3 48.3L210.5 48.6L211.7 48.8L212.9 49.1L214.1 49.4L215.3 49.7L216.5 50.0L217.7 50.3L218.9 50.6L220.1 50.9L221.3 51.3L222.5 51.6L223.7 52.0L224.9 52.4L226.2 52.7L227.4 53.1L228.6 53.5L229.8 53.9L231.0 54.4L232.2 54.8L233.4 55.2L234.6 55.7L235.8 56.1L237.0 56.6L238.2 57.0L239.4 57.5L240.6 58.0L241.8 58.5L243.0 59.0L244.2 59.5L245.4 60.0L246.6 60.5L247.8 61.1L249.0 61.6L250.2 62.1L251.4 62.7L252.6 63.2L253.8 63.8L255.0 64.4L256.3 65.0L257.5 65.5L258.7 66.1L259.9 66.7L261.1 67.3L262.3 67.9L263.5 68.5L264.7 69.2L265.9 69.8L267.1 70.4L268.3 71.0L269.5 71.7L270.7 72.3L271.9 73.0L273.1 73.6L274.3 74.3L275.5 74.9L276.7 75.6L277.9 76.3L279.1 77.0L280.3 77.6L281.5 78.3L282.7 79.0L283.9 79.7L285.2 80.4L286.4 81.1L287.6 81.8L288.8 82.5L290.0 83.2L291.2 83.9L292.4 84.6L293.6 85.3L294.8 86.1L296.0 86.8L297.2 87.5L298.4 88.3L299.6 89.0L300.8 89.7L302.0 90.5L303.2 91.2L304.4 91.9L305.6 92.7L306.8 93.4L308.0 94.2L309.2 95.0L310.4 95.7L311.6 96.5L312.8 97.2L314.0 98.0L315.3 98.8L316.5 99.5L317.7 100.3L318.9 101.1L320.1 101.8L321.3 102.6L322.5 103.4L323.7 104.2L324.9 104.9L326.1 105.7L327.3 106.5L328.5 107.3L329.7 108.1L330.9 108.8L332.1 109.6L333.3 110.4L334.5 111.2L335.7 112.0L336.9 112.8L338.1 113.6L339.3 114.3L340.5 115.1L341.7 115.9L342.9 116.7L344.2 117.5L345.4 118.3L346.6 119.1L347.8 119.9L349.0 120.7L350.2 121.4L351.4 122.2L352.6 123.0L353.8 123.8L355.0 124.6L356.2 125.4L357.4 126.2L358.6 127.0" stroke="#e01b1b" stroke-width="1.7"/>
<path d="M181.6 54.1L182.8 54.1L184.0 54.1L185.2 54.2L186.4 54.2L187.6 54.2L188.8 54.3L190.0 54.3L191.2 54.4L192.4 54.5L193.6 54.5L194.8 54.6L196.0 54.7L197.3 54.8L198.5 55.0L199.7 55.1L200.9 55.2L202.1 55.4L203.3 55.5L204.5 55.7L205.7 55.9L206.9 56.0L208.1 56.2L209.3 56.4L210.5 56.6L211.7 56.9L212.9 57.1L214.1 57.3L215.3 57.6L216.5 57.8L217.7 58.1L218.9 58.3L220.1 58.6L221.3 58.9L222.5 59.2L223.7 59.5L224.9 59.8L226.2 60.1L227.4 60.4L228.6 60.8L229.8 61.1L231.0 61.4L232.2 61.8L233.4 62.2L234.6 62.5L235.8 62.9L237.0 63.3L238.2 63.7L239.4 64.1L240.6 64.5L241.8 64.9L243.0 65.3L244.2 65.8L245.4 66.2L246.6 66.7L247.8 67.1L249.0 67.6L250.2 68.1L251.4 68.5L252.6 69.0L253.8 69.5L255.0 70.0L256.3 70.5L257.5 71.0L258.7 71.5L259.9 72.1L261.1 72.6L262.3 73.1L263.5 73.7L264.7 74.2L265.9 74.8L267.1 75.4L268.3 75.9L269.5 76.5L270.7 77.1L271.9 77.7L273.1 78.3L274.3 78.9L275.5 79.5L276.7 80.1L277.9 80.7L279.1 81.4L280.3 82.0L281.5 82.7L282.7 83.3L283.9 84.0L285.2 84.6L286.4 85.3L287.6 86.0L288.8 86.6L290.0 87.3L291.2 88.0L292.4 88.7L293.6 89.4L294.8 90.1L296.0 90.8L297.2 91.6L298.4 92.3L299.6 93.0L300.8 93.7L302.0 94.5L303.2 95.2L304.4 96.0L305.6 96.7L306.8 97.5L308.0 98.3L309.2 99.0L310.4 99.8L311.6 100.6L312.8 101.4L314.0 102.2L315.3 103.0L316.5 103.8L317.7 104.6L318.9 105.4L320.1 106.2L321.3 107.1L322.5 107.9L323.7 108.7L324.9 109.6L326.1 110.4L327.3 111.3L328.5 112.1L329.7 113.0L330.9 113.8L332.1 114.7L333.3 115.6L334.5 116.4L335.7 117.3L336.9 118.2L338.1 119.1L339.3 120.0L340.5 120.9L341.7 121.8L342.9 122.7L344.2 123.6L345.4 124.5L346.6 125.4L347.8 126.3L349.0 127.2L350.2 128.2L351.4 129.1L352.6 130.0L353.8 131.0L355.0 131.9L356.2 132.9L357.4 133.8L358.6 134.8" stroke="#b44be1" stroke-width="1.4"/>
<path d="M181.6 45.4L182.8 45.4L184.0 45.5L185.2 45.6L186.4 45.6L187.6 45.7L188.8 45.8L190.0 45.9L191.2 46.0L192.4 46.1L193.6 46.2L194.8 46.3L196.0 46.5L197.3 46.6L198.5 46.7L199.7 46.9L200.9 47.0L202.1 47.2L203.3 47.4L204.5 47.6L205.7 47.7L206.9 47.9L208.1 48.1L209.3 48.4L210.5 48.6L211.7 48.8L212.9 49.0L214.1 49.3L215.3 49.5L216.5 49.8L217.7 50.0L218.9 50.3L220.1 50.6L221.3 50.9L222.5 51.2L223.7 51.5L224.9 51.8L226.2 52.1L227.4 52.4L228.6 52.7L229.8 53.1L231.0 53.4L232.2 53.8L233.4 54.1L234.6 54.5L235.8 54.9L237.0 55.3L238.2 55.7L239.4 56.1L240.6 56.5L241.8 56.9L243.0 57.3L244.2 57.7L245.4 58.2L246.6 58.6L247.8 59.1L249.0 59.6L250.2 60.0L251.4 60.5L252.6 61.0L253.8 61.5L255.0 62.0L256.3 62.5L257.5 63.0L258.7 63.6L259.9 64.1L261.1 64.7L262.3 65.2L263.5 65.8L264.7 66.3L265.9 66.9L267.1 67.5L268.3 68.1L269.5 68.7L270.7 69.3L271.9 69.9L273.1 70.6L274.3 71.2L275.5 71.9L276.7 72.5L277.9 73.2L279.1 73.8L280.3 74.5L281.5 75.2L282.7 75.9L283.9 76.6L285.2 77.3L286.4 78.0L287.6 78.8L288.8 79.5L290.0 80.3L291.2 81.0L292.4 81.8L293.6 82.6L294.8 83.3L296.0 84.1L297.2 84.9L298.4 85.7L299.6 86.6L300.8 87.4L302.0 88.2L303.2 89.1L304.4 89.9L305.6 90.8L306.8 91.6L308.0 92.5L309.2 93.4L310.4 94.3L311.6 95.2L312.8 96.1L314.0 97.0L315.3 98.0L316.5 98.9L317.7 99.9L318.9 100.8L320.1 101.8L321.3 102.8L322.5 103.8L323.7 104.8L324.9 105.8L326.1 106.8L327.3 107.8L328.5 108.8L329.7 109.9L330.9 110.9L332.1 112.0L333.3 113.0L334.5 114.1L335.7 115.2L336.9 116.3L338.1 117.4L339.3 118.5L340.5 119.6L341.7 120.8L342.9 121.9L344.2 123.1L345.4 124.2L346.6 125.4L347.8 126.6L349.0 127.8L350.2 129.0L351.4 130.2L352.6 131.4L353.8 132.6L355.0 133.9L356.2 135.1L357.4 136.4L358.6 137.6" stroke="#f5a24b" stroke-width="1.2"/>
</g>
<rect x="37.7" y="177.6" width="110.9" height="50.3" fill="#fff" fill-opacity="0.85" stroke="#e8e8e8" stroke-width="0.8" rx="1.5"/>
<path d="M38.8 184.9h6.9" stroke="#1f77b4" stroke-width="1.5"/>
<text x="47.9" y="186.2" font-family='"Liberation Sans", sans-serif' font-size="9.20" font-weight="normal" text-anchor="start" fill="#1a1a1a" textLength="26.7" lengthAdjust="spacingAndGlyphs">Native</text>
<path d="M38.8 194.7h6.9" stroke="#e01b1b" stroke-width="1.5"/>
<text x="47.9" y="196.0" font-family='"Liberation Sans", sans-serif' font-size="9.20" font-weight="normal" text-anchor="start" fill="#1a1a1a" textLength="56.0" lengthAdjust="spacingAndGlyphs">DomAS-SAXS</text>
<text x="105.7" y="195.6" font-family='"Liberation Sans", sans-serif' font-size="7.00" font-weight="normal" text-anchor="start" fill="#333" textLength="33.2" lengthAdjust="spacingAndGlyphs">(Chi=2.77)</text>
<path d="M38.8 204.4h6.9" stroke="#5cb85c" stroke-width="1.5"/>
<text x="47.9" y="205.7" font-family='"Liberation Sans", sans-serif' font-size="9.20" font-weight="normal" text-anchor="start" fill="#1a1a1a" textLength="65.9" lengthAdjust="spacingAndGlyphs">DomAS-abinitio</text>
<text x="113.7" y="205.3" font-family='"Liberation Sans", sans-serif' font-size="7.00" font-weight="normal" text-anchor="start" fill="#333" textLength="33.4" lengthAdjust="spacingAndGlyphs">(Chi=3.47)</text>
<path d="M38.8 214.2h6.9" stroke="#b44be1" stroke-width="1.5"/>
<text x="47.9" y="215.5" font-family='"Liberation Sans", sans-serif' font-size="9.20" font-weight="normal" text-anchor="start" fill="#1a1a1a" textLength="20.2" lengthAdjust="spacingAndGlyphs">AIDA</text>
<text x="70.4" y="215.1" font-family='"Liberation Sans", sans-serif' font-size="7.00" font-weight="normal" text-anchor="start" fill="#333" textLength="32.8" lengthAdjust="spacingAndGlyphs">(Chi=18.2)</text>
<path d="M38.8 223.9h6.9" stroke="#f5a24b" stroke-width="1.5"/>
<text x="47.9" y="225.2" font-family='"Liberation Sans", sans-serif' font-size="9.20" font-weight="normal" text-anchor="start" fill="#1a1a1a" textLength="36.1" lengthAdjust="spacingAndGlyphs">Modeller</text>
<text x="86.5" y="224.8" font-family='"Liberation Sans", sans-serif' font-size="7.00" font-weight="normal" text-anchor="start" fill="#333" textLength="32.3" lengthAdjust="spacingAndGlyphs">(Chi=7.25)</text>
<rect x="431.8" y="26.2" width="324.6" height="208.4" fill="none" stroke="#bdbdbd" stroke-width="1"/>
<path d="M432.0 234.6v-2M432.0 26.2v2" stroke="#c4c4c4" stroke-width="0.7"/>
<text x="432.0" y="242.8" font-family='"Liberation Sans", sans-serif' font-size="7.80" font-weight="normal" text-anchor="middle" fill="#333" >0</text>
<path d="M475.9 234.6v-2M475.9 26.2v2" stroke="#c4c4c4" stroke-width="0.7"/>
<text x="475.9" y="242.8" font-family='"Liberation Sans", sans-serif' font-size="7.80" font-weight="normal" text-anchor="middle" fill="#333" >10</text>
<path d="M519.7 234.6v-2M519.7 26.2v2" stroke="#c4c4c4" stroke-width="0.7"/>
<text x="519.7" y="242.8" font-family='"Liberation Sans", sans-serif' font-size="7.80" font-weight="normal" text-anchor="middle" fill="#333" >20</text>
<path d="M563.5 234.6v-2M563.5 26.2v2" stroke="#c4c4c4" stroke-width="0.7"/>
<text x="563.5" y="242.8" font-family='"Liberation Sans", sans-serif' font-size="7.80" font-weight="normal" text-anchor="middle" fill="#333" >30</text>
<path d="M607.4 234.6v-2M607.4 26.2v2" stroke="#c4c4c4" stroke-width="0.7"/>
<text x="607.4" y="242.8" font-family='"Liberation Sans", sans-serif' font-size="7.80" font-weight="normal" text-anchor="middle" fill="#333" >40</text>
<path d="M651.2 234.6v-2M651.2 26.2v2" stroke="#c4c4c4" stroke-width="0.7"/>
<text x="651.2" y="242.8" font-family='"Liberation Sans", sans-serif' font-size="7.80" font-weight="normal" text-anchor="middle" fill="#333" >50</text>
<path d="M695.1 234.6v-2M695.1 26.2v2" stroke="#c4c4c4" stroke-width="0.7"/>
<text x="695.1" y="242.8" font-family='"Liberation Sans", sans-serif' font-size="7.80" font-weight="normal" text-anchor="middle" fill="#333" >60</text>
<path d="M739.0 234.6v-2M739.0 26.2v2" stroke="#c4c4c4" stroke-width="0.7"/>
<text x="739.0" y="242.8" font-family='"Liberation Sans", sans-serif' font-size="7.80" font-weight="normal" text-anchor="middle" fill="#333" >70</text>
<path d="M431.8 234.5h2M756.4 234.5h-2" stroke="#c4c4c4" stroke-width="0.7"/>
<text x="429.5" y="237.9" font-family='"Liberation Sans", sans-serif' font-size="7.80" font-weight="normal" text-anchor="end" fill="#333" >0</text>
<path d="M431.8 207.0h2M756.4 207.0h-2" stroke="#c4c4c4" stroke-width="0.7"/>
<text x="429.5" y="210.4" font-family='"Liberation Sans", sans-serif' font-size="7.80" font-weight="normal" text-anchor="end" fill="#333" >5000</text>
<path d="M431.8 179.5h2M756.4 179.5h-2" stroke="#c4c4c4" stroke-width="0.7"/>
<text x="429.5" y="182.9" font-family='"Liberation Sans", sans-serif' font-size="7.80" font-weight="normal" text-anchor="end" fill="#333" >10000</text>
<path d="M431.8 152.0h2M756.4 152.0h-2" stroke="#c4c4c4" stroke-width="0.7"/>
<text x="429.5" y="155.4" font-family='"Liberation Sans", sans-serif' font-size="7.80" font-weight="normal" text-anchor="end" fill="#333" >15000</text>
<path d="M431.8 124.5h2M756.4 124.5h-2" stroke="#c4c4c4" stroke-width="0.7"/>
<text x="429.5" y="127.9" font-family='"Liberation Sans", sans-serif' font-size="7.80" font-weight="normal" text-anchor="end" fill="#333" >20000</text>
<path d="M431.8 97.0h2M756.4 97.0h-2" stroke="#c4c4c4" stroke-width="0.7"/>
<text x="429.5" y="100.4" font-family='"Liberation Sans", sans-serif' font-size="7.80" font-weight="normal" text-anchor="end" fill="#333" >25000</text>
<path d="M431.8 69.5h2M756.4 69.5h-2" stroke="#c4c4c4" stroke-width="0.7"/>
<text x="429.5" y="72.9" font-family='"Liberation Sans", sans-serif' font-size="7.80" font-weight="normal" text-anchor="end" fill="#333" >30000</text>
<path d="M431.8 42.0h2M756.4 42.0h-2" stroke="#c4c4c4" stroke-width="0.7"/>
<text x="429.5" y="45.4" font-family='"Liberation Sans", sans-serif' font-size="7.80" font-weight="normal" text-anchor="end" fill="#333" >35000</text>
<text x="594.3" y="24.6" font-family='"Liberation Sans", sans-serif' font-size="8.30" font-weight="bold" text-anchor="middle" fill="#000" textLength="140" lengthAdjust="spacingAndGlyphs">Pair Distance Distribution Function</text>
<text x="594.3" y="250.6" font-family='"Liberation Sans", sans-serif' font-size="8.30" font-weight="bold" text-anchor="middle" fill="#000" >r</text>
<text transform="translate(404.4 130.8) rotate(-90)" font-family='"Liberation Sans", sans-serif' font-size="7.6" font-weight="bold" text-anchor="middle" textLength="14.4" lengthAdjust="spacingAndGlyphs">P(r)</text>
<g fill="none" stroke-linejoin="round" stroke-linecap="round">
<path d="M431.9 234.2L433.1 232.3L434.3 230.5L435.5 228.9L436.7 227.5L437.9 226.1L439.1 224.9L440.3 223.6L441.5 222.5L442.7 221.3L443.9 220.2L445.1 219.0L446.3 217.8L447.5 216.5L448.7 215.1L449.9 213.6L451.1 212.0L452.3 210.3L453.5 208.3L454.7 206.2L455.9 204.0L457.1 201.6L458.3 199.1L459.5 196.4L460.7 193.7L461.9 190.9L463.1 188.0L464.3 185.0L465.5 182.0L466.7 179.0L467.9 175.9L469.1 172.8L470.3 169.7L471.5 166.5L472.7 163.2L473.9 159.8L475.1 156.4L476.3 152.9L477.5 149.2L478.7 145.5L479.9 141.8L481.1 137.9L482.3 134.0L483.5 130.1L484.7 126.2L485.9 122.3L487.2 118.4L488.4 114.5L489.6 110.7L490.8 106.9L492.0 103.2L493.2 99.6L494.4 96.2L495.6 92.9L496.8 89.7L498.0 86.6L499.2 83.5L500.4 80.6L501.6 77.7L502.8 74.8L504.0 72.0L505.2 69.3L506.4 66.7L507.6 64.1L508.8 61.7L510.0 59.4L511.2 57.2L512.4 55.1L513.6 53.2L514.8 51.4L516.0 49.7L517.2 48.1L518.4 46.7L519.6 45.4L520.8 44.3L522.0 43.3L523.2 42.4L524.4 41.7L525.6 41.1L526.8 40.7L528.0 40.5L529.2 40.4L530.4 40.4L531.6 40.7L532.8 41.0L534.0 41.6L535.2 42.3L536.4 43.1L537.6 44.1L538.8 45.2L540.0 46.5L541.2 47.9L542.4 49.4L543.6 51.0L544.8 52.7L546.0 54.6L547.2 56.5L548.4 58.5L549.6 60.6L550.8 62.8L552.0 65.0L553.2 67.1L554.4 69.3L555.6 71.3L556.8 73.3L558.0 75.2L559.2 77.0L560.4 78.8L561.6 80.5L562.8 82.2L564.0 83.9L565.2 85.6L566.4 87.3L567.6 89.0L568.8 90.8L570.0 92.5L571.2 94.3L572.4 96.0L573.6 97.8L574.8 99.6L576.0 101.4L577.2 103.1L578.4 104.9L579.6 106.7L580.8 108.4L582.0 110.1L583.2 111.8L584.4 113.5L585.6 115.1L586.8 116.8L588.0 118.4L589.2 120.1L590.4 121.7L591.6 123.3L592.8 124.9L594.0 126.6L595.3 128.2L596.5 129.8L597.7 131.5L598.9 133.2L600.1 134.9L601.3 136.6L602.5 138.3L603.7 140.0L604.9 141.8L606.1 143.5L607.3 145.2L608.5 146.9L609.7 148.6L610.9 150.2L612.1 151.8L613.3 153.3L614.5 154.7L615.7 156.0L616.9 157.3L618.1 158.4L619.3 159.5L620.5 160.5L621.7 161.4L622.9 162.3L624.1 163.1L625.3 163.9L626.5 164.7L627.7 165.4L628.9 166.2L630.1 167.0L631.3 167.9L632.5 168.7L633.7 169.5L634.9 170.4L636.1 171.2L637.3 172.1L638.5 173.0L639.7 173.9L640.9 174.8L642.1 175.7L643.3 176.6L644.5 177.6L645.7 178.5L646.9 179.5L648.1 180.5L649.3 181.5L650.5 182.5L651.7 183.5L652.9 184.5L654.1 185.5L655.3 186.6L656.5 187.6L657.7 188.7L658.9 189.7L660.1 190.8L661.3 191.8L662.5 192.9L663.7 193.9L664.9 194.9L666.1 195.9L667.3 196.8L668.5 197.8L669.7 198.7L670.9 199.6L672.1 200.4L673.3 201.3L674.5 202.1L675.7 202.8L676.9 203.5L678.1 204.2L679.3 204.8L680.5 205.5L681.7 206.1L682.9 206.7L684.1 207.3L685.3 207.9L686.5 208.6L687.7 209.3L688.9 210.0L690.1 210.8L691.3 211.6L692.5 212.4L693.7 213.3L694.9 214.2L696.1 215.1L697.3 216.1L698.5 217.0L699.7 218.0L700.9 218.9L702.2 219.9L703.4 220.8L704.6 221.7L705.8 222.6L707.0 223.4L708.2 224.2L709.4 225.0L710.6 225.7L711.8 226.3L713.0 226.9L714.2 227.5L715.4 228.0L716.6 228.5L717.8 228.9L719.0 229.3L720.2 229.7L721.4 230.1L722.6 230.4L723.8 230.7L725.0 231.0L726.2 231.3L727.4 231.6L728.6 231.9L729.8 232.1L731.0 232.4L732.2 232.6L733.4 232.8L734.6 233.0L735.8 233.2L737.0 233.3L738.2 233.5L739.4 233.7L740.6 233.8L741.8 233.9L743.0 234.0L744.2 234.1L745.4 234.2L746.6 234.3L747.8 234.3L749.0 234.4L750.2 234.4L751.4 234.4L752.6 234.4L753.8 234.4L755.0 234.4L756.2 234.3" stroke="#1f77b4" stroke-width="1.8"/>
<path d="M431.9 234.3L433.1 232.4L434.3 230.8L435.5 229.2L436.7 227.9L437.9 226.6L439.1 225.4L440.3 224.2L441.5 223.1L442.7 222.0L443.9 220.9L445.1 219.7L446.3 218.5L447.5 217.1L448.7 215.7L449.9 214.2L451.1 212.5L452.3 210.7L453.5 208.8L454.7 206.8L455.9 204.7L457.1 202.4L458.3 200.1L459.5 197.6L460.7 195.0L461.9 192.3L463.1 189.5L464.3 186.5L465.5 183.5L466.7 180.4L467.9 177.3L469.1 174.2L470.3 171.0L471.5 167.9L472.7 164.8L473.9 161.6L475.1 158.3L476.3 154.9L477.5 151.4L478.7 147.7L479.9 144.0L481.1 140.2L482.3 136.4L483.5 132.6L484.7 128.7L485.9 124.9L487.2 121.0L488.4 117.3L489.6 113.6L490.8 110.0L492.0 106.6L493.2 103.3L494.4 100.2L495.6 97.3L496.8 94.7L498.0 92.2L499.2 89.9L500.4 87.7L501.6 85.7L502.8 83.8L504.0 81.9L505.2 80.1L506.4 78.4L507.6 76.7L508.8 75.1L510.0 73.6L511.2 72.2L512.4 71.0L513.6 69.8L514.8 68.9L516.0 68.0L517.2 67.2L518.4 66.6L519.6 66.0L520.8 65.6L522.0 65.2L523.2 65.0L524.4 64.8L525.6 64.6L526.8 64.6L528.0 64.6L529.2 64.7L530.4 64.8L531.6 65.0L532.8 65.3L534.0 65.6L535.2 66.0L536.4 66.4L537.6 66.9L538.8 67.4L540.0 68.0L541.2 68.6L542.4 69.3L543.6 70.0L544.8 70.8L546.0 71.6L547.2 72.4L548.4 73.3L549.6 74.3L550.8 75.2L552.0 76.2L553.2 77.2L554.4 78.3L555.6 79.4L556.8 80.5L558.0 81.7L559.2 82.8L560.4 84.1L561.6 85.3L562.8 86.6L564.0 87.9L565.2 89.2L566.4 90.5L567.6 91.9L568.8 93.3L570.0 94.8L571.2 96.2L572.4 97.7L573.6 99.2L574.8 100.7L576.0 102.3L577.2 103.9L578.4 105.5L579.6 107.2L580.8 108.9L582.0 110.7L583.2 112.5L584.4 114.3L585.6 116.1L586.8 117.9L588.0 119.7L589.2 121.4L590.4 123.0L591.6 124.5L592.8 126.0L594.0 127.4L595.3 128.7L596.5 130.0L597.7 131.2L598.9 132.3L600.1 133.4L601.3 134.5L602.5 135.5L603.7 136.5L604.9 137.4L606.1 138.3L607.3 139.1L608.5 139.9L609.7 140.7L610.9 141.4L612.1 142.1L613.3 142.8L614.5 143.5L615.7 144.2L616.9 144.8L618.1 145.5L619.3 146.1L620.5 146.7L621.7 147.3L622.9 147.9L624.1 148.6L625.3 149.2L626.5 149.8L627.7 150.5L628.9 151.1L630.1 151.8L631.3 152.5L632.5 153.2L633.7 153.9L634.9 154.6L636.1 155.3L637.3 156.1L638.5 156.9L639.7 157.6L640.9 158.4L642.1 159.3L643.3 160.1L644.5 160.9L645.7 161.8L646.9 162.7L648.1 163.6L649.3 164.5L650.5 165.4L651.7 166.4L652.9 167.3L654.1 168.3L655.3 169.3L656.5 170.3L657.7 171.4L658.9 172.4L660.1 173.5L661.3 174.6L662.5 175.7L663.7 176.8L664.9 178.0L666.1 179.2L667.3 180.4L668.5 181.6L669.7 182.8L670.9 184.1L672.1 185.3L673.3 186.6L674.5 187.8L675.7 189.1L676.9 190.4L678.1 191.7L679.3 193.0L680.5 194.3L681.7 195.5L682.9 196.8L684.1 198.1L685.3 199.3L686.5 200.6L687.7 201.8L688.9 203.0L690.1 204.2L691.3 205.4L692.5 206.5L693.7 207.6L694.9 208.7L696.1 209.8L697.3 210.8L698.5 211.8L699.7 212.8L700.9 213.8L702.2 214.7L703.4 215.6L704.6 216.4L705.8 217.3L707.0 218.1L708.2 218.9L709.4 219.6L710.6 220.3L711.8 221.0L713.0 221.7L714.2 222.4L715.4 223.0L716.6 223.6L717.8 224.2L719.0 224.8L720.2 225.3L721.4 225.8L722.6 226.4L723.8 226.8L725.0 227.3L726.2 227.7L727.4 228.2L728.6 228.6L729.8 229.0L731.0 229.4L732.2 229.7L733.4 230.1L734.6 230.4L735.8 230.7L737.0 231.0L738.2 231.3L739.4 231.6L740.6 231.8L741.8 232.1L743.0 232.3L744.2 232.6L745.4 232.8L746.6 233.0L747.8 233.2L749.0 233.4L750.2 233.5L751.4 233.7L752.6 233.9L753.8 234.0L755.0 234.2L756.2 234.3" stroke="#5cb85c" stroke-width="1.2"/>
<path d="M431.9 234.2L433.1 232.3L434.3 230.5L435.5 228.9L436.7 227.5L437.9 226.2L439.1 224.9L440.3 223.7L441.5 222.5L442.7 221.4L443.9 220.2L445.1 219.1L446.3 217.8L447.5 216.5L448.7 215.1L449.9 213.5L451.1 211.9L452.3 210.1L453.5 208.2L454.7 206.2L455.9 204.1L457.1 201.9L458.3 199.5L459.5 197.0L460.7 194.3L461.9 191.5L463.1 188.6L464.3 185.6L465.5 182.4L466.7 179.3L467.9 176.0L469.1 172.8L470.3 169.7L471.5 166.5L472.7 163.4L473.9 160.3L475.1 157.0L476.3 153.6L477.5 150.1L478.7 146.5L479.9 142.7L481.1 138.9L482.3 135.0L483.5 131.0L484.7 127.1L485.9 123.1L487.2 119.2L488.4 115.3L489.6 111.5L490.8 107.9L492.0 104.3L493.2 100.9L494.4 97.6L495.6 94.6L496.8 91.7L498.0 89.0L499.2 86.4L500.4 84.0L501.6 81.7L502.8 79.4L504.0 77.3L505.2 75.1L506.4 73.0L507.6 71.0L508.8 69.0L510.0 67.1L511.2 65.3L512.4 63.7L513.6 62.3L514.8 61.1L516.0 59.9L517.2 59.0L518.4 58.2L519.6 57.5L520.8 57.0L522.0 56.6L523.2 56.3L524.4 56.1L525.6 56.0L526.8 56.1L528.0 56.2L529.2 56.4L530.4 56.7L531.6 57.1L532.8 57.6L534.0 58.1L535.2 58.7L536.4 59.3L537.6 60.0L538.8 60.8L540.0 61.6L541.2 62.4L542.4 63.3L543.6 64.1L544.8 65.0L546.0 66.0L547.2 66.9L548.4 67.9L549.6 68.9L550.8 70.0L552.0 71.0L553.2 72.2L554.4 73.3L555.6 74.6L556.8 75.8L558.0 77.1L559.2 78.5L560.4 79.9L561.6 81.4L562.8 82.9L564.0 84.4L565.2 86.0L566.4 87.6L567.6 89.3L568.8 90.9L570.0 92.6L571.2 94.4L572.4 96.1L573.6 97.8L574.8 99.6L576.0 101.4L577.2 103.1L578.4 104.9L579.6 106.6L580.8 108.4L582.0 110.1L583.2 111.8L584.4 113.5L585.6 115.2L586.8 116.8L588.0 118.4L589.2 120.0L590.4 121.6L591.6 123.1L592.8 124.5L594.0 126.0L595.3 127.4L596.5 128.8L597.7 130.1L598.9 131.5L600.1 132.8L601.3 134.0L602.5 135.3L603.7 136.5L604.9 137.7L606.1 138.9L607.3 140.1L608.5 141.2L609.7 142.3L610.9 143.5L612.1 144.6L613.3 145.7L614.5 146.7L615.7 147.8L616.9 148.9L618.1 149.9L619.3 150.9L620.5 152.0L621.7 153.0L622.9 154.0L624.1 155.1L625.3 156.1L626.5 157.1L627.7 158.1L628.9 159.1L630.1 160.1L631.3 161.1L632.5 162.1L633.7 163.1L634.9 164.1L636.1 165.1L637.3 166.1L638.5 167.1L639.7 168.1L640.9 169.0L642.1 170.0L643.3 171.0L644.5 171.9L645.7 172.9L646.9 173.8L648.1 174.8L649.3 175.7L650.5 176.7L651.7 177.6L652.9 178.6L654.1 179.5L655.3 180.4L656.5 181.3L657.7 182.3L658.9 183.2L660.1 184.1L661.3 185.0L662.5 185.9L663.7 186.8L664.9 187.7L666.1 188.6L667.3 189.5L668.5 190.4L669.7 191.3L670.9 192.2L672.1 193.0L673.3 193.9L674.5 194.8L675.7 195.7L676.9 196.6L678.1 197.5L679.3 198.3L680.5 199.2L681.7 200.1L682.9 201.0L684.1 201.9L685.3 202.7L686.5 203.6L687.7 204.5L688.9 205.4L690.1 206.3L691.3 207.1L692.5 208.0L693.7 208.9L694.9 209.8L696.1 210.7L697.3 211.6L698.5 212.5L699.7 213.4L700.9 214.2L702.2 215.1L703.4 216.0L704.6 216.8L705.8 217.7L707.0 218.5L708.2 219.3L709.4 220.1L710.6 220.9L711.8 221.7L713.0 222.4L714.2 223.2L715.4 223.9L716.6 224.6L717.8 225.2L719.0 225.9L720.2 226.5L721.4 227.1L722.6 227.7L723.8 228.2L725.0 228.8L726.2 229.2L727.4 229.7L728.6 230.1L729.8 230.5L731.0 230.9L732.2 231.2L733.4 231.4L734.6 231.7L735.8 231.9L737.0 232.1L738.2 232.3L739.4 232.4L740.6 232.6L741.8 232.7L743.0 232.8L744.2 232.9L745.4 233.0L746.6 233.1L747.8 233.2L749.0 233.4L750.2 233.5L751.4 233.6L752.6 233.8L753.8 234.0L755.0 234.2L756.2 234.4" stroke="#e01b1b" stroke-width="1.8"/>
<path d="M431.9 233.9L433.1 232.7L434.3 231.6L435.5 230.4L436.7 229.2L437.9 228.0L439.1 226.8L440.3 225.6L441.5 224.4L442.7 223.1L443.9 221.8L445.1 220.5L446.3 219.2L447.5 217.8L448.7 216.3L449.9 214.8L451.1 213.3L452.3 211.7L453.5 210.0L454.7 208.2L455.9 206.4L457.1 204.6L458.3 202.6L459.5 200.6L460.8 198.5L462.0 196.2L463.2 193.9L464.4 191.5L465.6 189.0L466.8 186.4L468.0 183.7L469.2 180.9L470.4 178.0L471.6 175.0L472.8 171.9L474.0 168.8L475.2 165.7L476.4 162.5L477.6 159.3L478.8 156.1L480.0 152.9L481.2 149.8L482.4 146.7L483.6 143.6L484.8 140.6L486.0 137.7L487.2 134.8L488.4 132.1L489.6 129.4L490.8 126.9L492.0 124.4L493.2 122.1L494.4 119.8L495.6 117.7L496.8 115.7L498.0 113.8L499.2 112.0L500.4 110.3L501.6 108.8L502.8 107.3L504.0 106.0L505.2 104.8L506.4 103.8L507.6 102.8L508.8 101.9L510.0 101.1L511.2 100.3L512.4 99.7L513.6 99.1L514.8 98.6L516.1 98.2L517.3 97.8L518.5 97.5L519.7 97.2L520.9 96.9L522.1 96.8L523.3 96.6L524.5 96.4L525.7 96.3L526.9 96.2L528.1 96.1L529.3 96.1L530.5 96.0L531.7 95.9L532.9 95.8L534.1 95.8L535.3 95.7L536.5 95.6L537.7 95.6L538.9 95.6L540.1 95.6L541.3 95.6L542.5 95.7L543.7 95.8L544.9 95.9L546.1 96.1L547.3 96.3L548.5 96.5L549.7 96.8L550.9 97.2L552.1 97.6L553.3 98.1L554.5 98.7L555.7 99.3L556.9 100.0L558.1 100.7L559.3 101.6L560.5 102.5L561.7 103.5L562.9 104.7L564.1 105.8L565.3 107.1L566.5 108.4L567.7 109.8L568.9 111.3L570.1 112.7L571.3 114.3L572.6 115.8L573.8 117.4L575.0 119.0L576.2 120.7L577.4 122.4L578.6 124.0L579.8 125.8L581.0 127.5L582.2 129.2L583.4 131.0L584.6 132.8L585.8 134.6L587.0 136.3L588.2 138.1L589.4 139.9L590.6 141.7L591.8 143.5L593.0 145.3L594.2 147.1L595.4 148.9L596.6 150.7L597.8 152.5L599.0 154.3L600.2 156.0L601.4 157.8L602.6 159.6L603.8 161.4L605.0 163.2L606.2 164.9L607.4 166.7L608.6 168.5L609.8 170.2L611.0 172.0L612.2 173.7L613.4 175.4L614.6 177.1L615.8 178.8L617.0 180.5L618.2 182.1L619.4 183.7L620.6 185.2L621.8 186.7L623.0 188.2L624.2 189.7L625.4 191.1L626.6 192.4L627.8 193.7L629.1 194.9L630.3 196.1L631.5 197.3L632.7 198.4L633.9 199.5L635.1 200.5L636.3 201.6L637.5 202.6L638.7 203.5L639.9 204.5L641.1 205.5L642.3 206.4L643.5 207.3L644.7 208.2L645.9 209.1L647.1 210.0L648.3 210.8L649.5 211.7L650.7 212.5L651.9 213.3L653.1 214.1L654.3 214.9L655.5 215.7L656.7 216.4L657.9 217.2L659.1 217.9L660.3 218.6L661.5 219.3L662.7 219.9L663.9 220.6L665.1 221.2L666.3 221.8L667.5 222.4L668.7 223.0L669.9 223.6L671.1 224.1L672.3 224.7L673.5 225.2L674.7 225.7L675.9 226.1L677.1 226.6L678.3 227.0L679.5 227.5L680.7 227.9L681.9 228.3L683.1 228.6L684.4 229.0L685.6 229.4L686.8 229.7L688.0 230.0L689.2 230.3L690.4 230.6L691.6 230.9L692.8 231.2L694.0 231.4L695.2 231.7L696.4 231.9L697.6 232.2L698.8 232.4L700.0 232.6L701.2 232.8L702.4 233.0L703.6 233.2L704.8 233.4L706.0 233.6L707.2 233.8L708.4 234.0L709.6 234.2L710.8 234.3L712.0 234.5" stroke="#b44be1" stroke-width="1.35"/>
<path d="M431.9 234.3L433.1 232.4L434.3 230.7L435.5 229.0L436.7 227.5L437.9 226.0L439.1 224.6L440.3 223.3L441.5 222.0L442.7 220.8L443.9 219.6L445.1 218.4L446.3 217.2L447.5 215.9L448.7 214.6L449.9 213.1L451.1 211.5L452.3 209.7L453.5 207.8L454.7 205.6L455.9 203.3L457.1 200.9L458.3 198.3L459.5 195.6L460.7 192.7L461.9 189.8L463.1 186.9L464.3 183.8L465.5 180.7L466.7 177.6L467.9 174.5L469.1 171.3L470.3 168.1L471.5 164.9L472.7 161.6L473.9 158.2L475.1 154.7L476.3 151.2L477.5 147.6L478.7 143.9L479.9 140.1L481.1 136.3L482.3 132.4L483.5 128.5L484.7 124.6L485.9 120.7L487.1 116.7L488.3 112.9L489.5 109.0L490.7 105.2L491.9 101.4L493.1 97.7L494.3 94.0L495.5 90.3L496.7 86.7L497.9 83.2L499.1 79.6L500.3 76.2L501.5 72.8L502.7 69.5L503.9 66.3L505.1 63.2L506.3 60.4L507.5 57.7L508.7 55.2L509.9 52.8L511.1 50.6L512.3 48.6L513.5 46.7L514.7 44.9L515.9 43.3L517.1 41.8L518.3 40.4L519.5 39.1L520.7 37.9L521.9 36.8L523.1 35.8L524.3 34.8L525.5 33.9L526.7 33.1L527.9 32.4L529.1 31.8L530.3 31.2L531.5 30.8L532.7 30.5L533.9 30.3L535.1 30.3L536.3 30.4L537.5 30.7L538.7 31.0L539.9 31.4L541.1 31.9L542.3 32.5L543.5 33.2L544.7 33.9L545.9 34.6L547.1 35.4L548.3 36.2L549.5 37.1L550.7 38.1L551.9 39.2L553.1 40.3L554.3 41.5L555.5 42.8L556.7 44.2L557.9 45.7L559.1 47.2L560.3 48.9L561.5 50.6L562.7 52.4L563.9 54.3L565.1 56.2L566.3 58.2L567.5 60.3L568.7 62.3L569.9 64.5L571.1 66.6L572.3 68.8L573.5 71.1L574.7 73.3L575.9 75.6L577.1 77.9L578.3 80.3L579.5 82.6L580.7 84.9L581.9 87.3L583.1 89.6L584.3 92.0L585.5 94.3L586.7 96.7L587.9 99.1L589.1 101.5L590.3 104.0L591.5 106.5L592.7 109.0L593.9 111.6L595.1 114.3L596.3 116.9L597.5 119.6L598.7 122.3L599.9 124.9L601.1 127.5L602.3 130.0L603.5 132.5L604.7 134.9L605.9 137.3L607.1 139.6L608.3 141.9L609.5 144.1L610.7 146.3L611.9 148.6L613.1 150.8L614.3 153.0L615.5 155.2L616.7 157.4L617.9 159.7L619.1 161.9L620.3 164.2L621.5 166.5L622.7 168.8L623.9 171.1L625.1 173.4L626.3 175.7L627.5 177.9L628.7 180.2L629.9 182.4L631.1 184.6L632.3 186.7L633.5 188.8L634.7 190.9L635.9 192.9L637.1 194.8L638.3 196.7L639.5 198.5L640.7 200.2L641.9 201.8L643.1 203.4L644.3 204.9L645.5 206.3L646.7 207.7L647.9 209.0L649.1 210.2L650.3 211.4L651.5 212.6L652.7 213.6L653.9 214.7L655.1 215.6L656.3 216.6L657.5 217.5L658.7 218.3L659.9 219.1L661.1 219.9L662.3 220.7L663.5 221.4L664.7 222.1L665.9 222.7L667.1 223.4L668.3 224.0L669.5 224.6L670.7 225.1L671.9 225.6L673.1 226.1L674.3 226.6L675.5 227.1L676.7 227.5L677.9 228.0L679.1 228.4L680.3 228.8L681.5 229.1L682.7 229.5L683.9 229.8L685.1 230.2L686.3 230.5L687.5 230.8L688.7 231.1L689.9 231.4L691.1 231.7L692.3 231.9L693.5 232.2L694.7 232.4L695.9 232.7L697.1 232.9L698.3 233.2L699.5 233.4L700.7 233.7L701.9 233.9L703.1 234.1" stroke="#f5a24b" stroke-width="1.25"/>
</g>
<rect x="636.5" y="33.5" width="112.7" height="51.2" fill="#fff" fill-opacity="0.85" stroke="#e8e8e8" stroke-width="0.8" rx="1.5"/>
<path d="M637.4 40.2h6.5" stroke="#1f77b4" stroke-width="1.5"/>
<text x="646.2" y="41.6" font-family='"Liberation Sans", sans-serif' font-size="9.20" font-weight="normal" text-anchor="start" fill="#1a1a1a" textLength="27.0" lengthAdjust="spacingAndGlyphs">Native</text>
<path d="M637.4 50.2h6.5" stroke="#e01b1b" stroke-width="1.5"/>
<text x="646.2" y="51.6" font-family='"Liberation Sans", sans-serif' font-size="9.20" font-weight="normal" text-anchor="start" fill="#1a1a1a" textLength="56.5" lengthAdjust="spacingAndGlyphs">DomAS-SAXS</text>
<path d="M637.4 60.2h6.5" stroke="#5cb85c" stroke-width="1.5"/>
<text x="646.2" y="61.6" font-family='"Liberation Sans", sans-serif' font-size="9.20" font-weight="normal" text-anchor="start" fill="#1a1a1a" textLength="65.4" lengthAdjust="spacingAndGlyphs">DomAS-abinitio</text>
<path d="M637.4 70.2h6.5" stroke="#b44be1" stroke-width="1.5"/>
<text x="646.2" y="71.6" font-family='"Liberation Sans", sans-serif' font-size="9.20" font-weight="normal" text-anchor="start" fill="#1a1a1a" textLength="20.4" lengthAdjust="spacingAndGlyphs">AIDA</text>
<path d="M637.4 80.2h6.5" stroke="#f5a24b" stroke-width="1.5"/>
<text x="646.2" y="81.6" font-family='"Liberation Sans", sans-serif' font-size="9.20" font-weight="normal" text-anchor="start" fill="#1a1a1a" textLength="36.3" lengthAdjust="spacingAndGlyphs">Modeller</text>
<path d="M38 275.8H36.1V480.6H38" fill="none" stroke="#ebebeb" stroke-width="0.8"/>
<path d="M95 454.8H754.8" stroke="#e0e0e0" stroke-width="1"/>
<text x="84.6" y="459.0" font-family='"Liberation Serif", serif' font-size="11.80" font-weight="bold" text-anchor="end" fill="#000" >0</text>
<path d="M95 436.9H754.8" stroke="#e0e0e0" stroke-width="1"/>
<text x="84.6" y="441.1" font-family='"Liberation Serif", serif' font-size="11.80" font-weight="bold" text-anchor="end" fill="#000" >5</text>
<path d="M95 419.0H754.8" stroke="#e0e0e0" stroke-width="1"/>
<text x="84.6" y="423.2" font-family='"Liberation Serif", serif' font-size="11.80" font-weight="bold" text-anchor="end" fill="#000" >10</text>
<path d="M95 401.1H754.8" stroke="#e0e0e0" stroke-width="1"/>
<text x="84.6" y="405.3" font-family='"Liberation Serif", serif' font-size="11.80" font-weight="bold" text-anchor="end" fill="#000" >15</text>
<path d="M95 383.2H754.8" stroke="#e0e0e0" stroke-width="1"/>
<text x="84.6" y="387.4" font-family='"Liberation Serif", serif' font-size="11.80" font-weight="bold" text-anchor="end" fill="#000" >20</text>
<path d="M95 365.2H754.8" stroke="#e0e0e0" stroke-width="1"/>
<text x="84.6" y="369.4" font-family='"Liberation Serif", serif' font-size="11.80" font-weight="bold" text-anchor="end" fill="#000" >25</text>
<path d="M95 347.3H754.8" stroke="#e0e0e0" stroke-width="1"/>
<text x="84.6" y="351.5" font-family='"Liberation Serif", serif' font-size="11.80" font-weight="bold" text-anchor="end" fill="#000" >30</text>
<path d="M95 329.4H754.8" stroke="#e0e0e0" stroke-width="1"/>
<text x="84.6" y="333.6" font-family='"Liberation Serif", serif' font-size="11.80" font-weight="bold" text-anchor="end" fill="#000" >35</text>
<path d="M95 311.5H754.8" stroke="#e0e0e0" stroke-width="1"/>
<text x="84.6" y="315.7" font-family='"Liberation Serif", serif' font-size="11.80" font-weight="bold" text-anchor="end" fill="#000" >40</text>
<path d="M95 293.6H754.8" stroke="#e0e0e0" stroke-width="1"/>
<text x="84.6" y="297.8" font-family='"Liberation Serif", serif' font-size="11.80" font-weight="bold" text-anchor="end" fill="#000" >45</text>
<path d="M95 275.7H754.8" stroke="#e0e0e0" stroke-width="1"/>
<text x="84.6" y="279.9" font-family='"Liberation Serif", serif' font-size="11.80" font-weight="bold" text-anchor="end" fill="#000" >50</text>
<text transform="translate(95.8 461.8) rotate(-90)" font-family='"Liberation Serif", serif' font-size="11.7" font-weight="bold" text-anchor="end" dy="0.35em">1</text>
<text transform="translate(111.5 461.8) rotate(-90)" font-family='"Liberation Serif", serif' font-size="11.7" font-weight="bold" text-anchor="end" dy="0.35em">8</text>
<text transform="translate(127.1 461.8) rotate(-90)" font-family='"Liberation Serif", serif' font-size="11.7" font-weight="bold" text-anchor="end" dy="0.35em">15</text>
<text transform="translate(142.8 461.8) rotate(-90)" font-family='"Liberation Serif", serif' font-size="11.7" font-weight="bold" text-anchor="end" dy="0.35em">22</text>
<text transform="translate(158.5 461.8) rotate(-90)" font-family='"Liberation Serif", serif' font-size="11.7" font-weight="bold" text-anchor="end" dy="0.35em">29</text>
<text transform="translate(174.1 461.8) rotate(-90)" font-family='"Liberation Serif", serif' font-size="11.7" font-weight="bold" text-anchor="end" dy="0.35em">36</text>
<text transform="translate(189.8 461.8) rotate(-90)" font-family='"Liberation Serif", serif' font-size="11.7" font-weight="bold" text-anchor="end" dy="0.35em">43</text>
<text transform="translate(205.5 461.8) rotate(-90)" font-family='"Liberation Serif", serif' font-size="11.7" font-weight="bold" text-anchor="end" dy="0.35em">50</text>
<text transform="translate(221.1 461.8) rotate(-90)" font-family='"Liberation Serif", serif' font-size="11.7" font-weight="bold" text-anchor="end" dy="0.35em">57</text>
<text transform="translate(236.8 461.8) rotate(-90)" font-family='"Liberation Serif", serif' font-size="11.7" font-weight="bold" text-anchor="end" dy="0.35em">64</text>
<text transform="translate(252.5 461.8) rotate(-90)" font-family='"Liberation Serif", serif' font-size="11.7" font-weight="bold" text-anchor="end" dy="0.35em">71</text>
<text transform="translate(268.1 461.8) rotate(-90)" font-family='"Liberation Serif", serif' font-size="11.7" font-weight="bold" text-anchor="end" dy="0.35em">78</text>
<text transform="translate(283.8 461.8) rotate(-90)" font-family='"Liberation Serif", serif' font-size="11.7" font-weight="bold" text-anchor="end" dy="0.35em">85</text>
<text transform="translate(299.5 461.8) rotate(-90)" font-family='"Liberation Serif", serif' font-size="11.7" font-weight="bold" text-anchor="end" dy="0.35em">92</text>
<text transform="translate(315.1 461.8) rotate(-90)" font-family='"Liberation Serif", serif' font-size="11.7" font-weight="bold" text-anchor="end" dy="0.35em">99</text>
<text transform="translate(330.8 461.8) rotate(-90)" font-family='"Liberation Serif", serif' font-size="11.7" font-weight="bold" text-anchor="end" dy="0.35em">106</text>
<text transform="translate(346.5 461.8) rotate(-90)" font-family='"Liberation Serif", serif' font-size="11.7" font-weight="bold" text-anchor="end" dy="0.35em">113</text>
<text transform="translate(362.1 461.8) rotate(-90)" font-family='"Liberation Serif", serif' font-size="11.7" font-weight="bold" text-anchor="end" dy="0.35em">120</text>
<text transform="translate(377.8 461.8) rotate(-90)" font-family='"Liberation Serif", serif' font-size="11.7" font-weight="bold" text-anchor="end" dy="0.35em">127</text>
<text transform="translate(393.5 461.8) rotate(-90)" font-family='"Liberation Serif", serif' font-size="11.7" font-weight="bold" text-anchor="end" dy="0.35em">134</text>
<text transform="translate(409.1 461.8) rotate(-90)" font-family='"Liberation Serif", serif' font-size="11.7" font-weight="bold" text-anchor="end" dy="0.35em">141</text>
<text transform="translate(424.8 461.8) rotate(-90)" font-family='"Liberation Serif", serif' font-size="11.7" font-weight="bold" text-anchor="end" dy="0.35em">148</text>
<text transform="translate(440.5 461.8) rotate(-90)" font-family='"Liberation Serif", serif' font-size="11.7" font-weight="bold" text-anchor="end" dy="0.35em">155</text>
<text transform="translate(456.1 461.8) rotate(-90)" font-family='"Liberation Serif", serif' font-size="11.7" font-weight="bold" text-anchor="end" dy="0.35em">162</text>
<text transform="translate(471.8 461.8) rotate(-90)" font-family='"Liberation Serif", serif' font-size="11.7" font-weight="bold" text-anchor="end" dy="0.35em">169</text>
<text transform="translate(487.4 461.8) rotate(-90)" font-family='"Liberation Serif", serif' font-size="11.7" font-weight="bold" text-anchor="end" dy="0.35em">176</text>
<text transform="translate(503.1 461.8) rotate(-90)" font-family='"Liberation Serif", serif' font-size="11.7" font-weight="bold" text-anchor="end" dy="0.35em">183</text>
<text transform="translate(518.8 461.8) rotate(-90)" font-family='"Liberation Serif", serif' font-size="11.7" font-weight="bold" text-anchor="end" dy="0.35em">190</text>
<text transform="translate(534.4 461.8) rotate(-90)" font-family='"Liberation Serif", serif' font-size="11.7" font-weight="bold" text-anchor="end" dy="0.35em">197</text>
<text transform="translate(550.1 461.8) rotate(-90)" font-family='"Liberation Serif", serif' font-size="11.7" font-weight="bold" text-anchor="end" dy="0.35em">204</text>
<text transform="translate(565.8 461.8) rotate(-90)" font-family='"Liberation Serif", serif' font-size="11.7" font-weight="bold" text-anchor="end" dy="0.35em">211</text>
<text transform="translate(581.4 461.8) rotate(-90)" font-family='"Liberation Serif", serif' font-size="11.7" font-weight="bold" text-anchor="end" dy="0.35em">218</text>
<text transform="translate(597.1 461.8) rotate(-90)" font-family='"Liberation Serif", serif' font-size="11.7" font-weight="bold" text-anchor="end" dy="0.35em">225</text>
<text transform="translate(612.8 461.8) rotate(-90)" font-family='"Liberation Serif", serif' font-size="11.7" font-weight="bold" text-anchor="end" dy="0.35em">232</text>
<text transform="translate(628.4 461.8) rotate(-90)" font-family='"Liberation Serif", serif' font-size="11.7" font-weight="bold" text-anchor="end" dy="0.35em">239</text>
<text transform="translate(644.1 461.8) rotate(-90)" font-family='"Liberation Serif", serif' font-size="11.7" font-weight="bold" text-anchor="end" dy="0.35em">246</text>
<text transform="translate(659.8 461.8) rotate(-90)" font-family='"Liberation Serif", serif' font-size="11.7" font-weight="bold" text-anchor="end" dy="0.35em">253</text>
<text transform="translate(675.4 461.8) rotate(-90)" font-family='"Liberation Serif", serif' font-size="11.7" font-weight="bold" text-anchor="end" dy="0.35em">260</text>
<text transform="translate(691.1 461.8) rotate(-90)" font-family='"Liberation Serif", serif' font-size="11.7" font-weight="bold" text-anchor="end" dy="0.35em">267</text>
<text transform="translate(706.8 461.8) rotate(-90)" font-family='"Liberation Serif", serif' font-size="11.7" font-weight="bold" text-anchor="end" dy="0.35em">274</text>
<text transform="translate(722.4 461.8) rotate(-90)" font-family='"Liberation Serif", serif' font-size="11.7" font-weight="bold" text-anchor="end" dy="0.35em">281</text>
<text transform="translate(738.1 461.8) rotate(-90)" font-family='"Liberation Serif", serif' font-size="11.7" font-weight="bold" text-anchor="end" dy="0.35em">288</text>
<text transform="translate(753.8 461.8) rotate(-90)" font-family='"Liberation Serif", serif' font-size="11.7" font-weight="bold" text-anchor="end" dy="0.35em">295</text>
<text transform="translate(67.6 364.4) rotate(-90)" font-family='"Liberation Serif", serif' font-size="15.2" font-weight="bold" text-anchor="middle" textLength="53.3" lengthAdjust="spacingAndGlyphs">Distance</text>
<text x="386.4" y="496.6" font-family='"Liberation Serif", serif' font-size="14.60" font-weight="bold" text-anchor="start" fill="#000" textLength="75.3" lengthAdjust="spacingAndGlyphs">Amino Acid</text>
<g fill="none" stroke-linejoin="round" stroke-linecap="round" stroke-width="2">
<path d="M95.3 422.9L97.5 425.4L99.8 435.5L102.0 431.9L104.3 432.6L106.5 437.2L108.7 437.8L111.0 438.3L113.2 439.4L115.4 441.2L117.7 443.0L119.9 441.7L122.2 440.5L124.4 443.7L126.6 441.9L128.9 440.1L131.1 442.4L133.3 444.8L135.6 444.3L137.8 443.9L140.1 445.5L142.3 447.1L144.5 448.7L146.8 444.4L149.0 440.1L151.2 440.5L153.5 443.0L155.7 440.5L158.0 438.0L160.2 440.1L162.4 442.3L164.7 439.8L166.9 437.2L169.2 439.6L171.4 441.9L173.6 438.9L175.9 435.8L178.1 438.0L180.3 438.0L182.6 443.7L184.8 441.2L187.1 438.7L189.3 441.2L191.5 443.7L193.8 443.3L196.0 440.5L198.2 443.3L200.5 446.2L202.7 443.9L205.0 441.5L207.2 444.1L209.4 446.6L211.7 443.5L213.9 440.5L216.2 442.6L218.4 444.8L220.6 440.5L222.9 436.2L225.1 440.8L227.3 445.5L229.6 446.6L231.8 447.6L234.1 451.2L236.3 450.0L238.5 448.7L240.8 449.1L243.0 449.4L245.2 448.5L247.5 447.6L249.7 448.9L252.0 450.1L254.2 448.7L256.4 447.3L258.7 448.7L260.9 450.1L263.1 448.7L265.4 447.3L267.6 449.4L269.9 447.3L272.1 445.1L274.3 444.4L276.6 438.0L278.8 431.5L281.1 432.6L283.3 417.5L285.5 414.0L287.8 426.5L290.0 415.8L292.2 433.3L294.5 440.5L296.7 443.9L299.0 447.3L301.2 449.4L303.4 451.6L305.7 452.7L307.9 451.4L310.1 451.6L312.4 452.8L314.6 451.7L316.9 451.2L319.1 450.2L321.3 449.8L323.6 451.1L325.8 451.1L328.1 452.0L330.3 451.7L332.5 450.0L334.8 450.4L337.0 449.4L339.2 448.7L341.5 449.5L343.7 448.0L346.0 447.9L348.2 449.6L350.4 449.5L352.7 448.4L354.9 447.5L357.1 448.1L359.4 448.0L361.6 447.1L363.9 447.5L366.1 447.2L368.3 446.9L370.6 446.9L372.8 449.2L375.1 451.0L377.3 452.0L379.5 452.4L381.8 452.5L384.0 452.9L386.2 450.5L388.5 450.4L390.7 449.5L393.0 449.7L395.2 448.4L397.4 450.5L399.7 450.9L401.9 449.4L404.1 449.0L406.4 449.4L408.6 445.5L410.9 443.1L413.1 445.0L415.3 448.0L417.6 444.8L419.8 440.3L422.0 441.3L424.3 443.0L426.5 446.7L428.8 449.6L431.0 451.6L433.2 452.1L435.5 451.3L437.7 452.5L440.0 449.4L442.2 448.6L444.4 448.3L446.7 449.8L448.9 451.3L451.1 452.2L453.4 453.0L455.6 452.5L457.9 453.0L460.1 453.2L462.3 453.0L464.6 453.6L466.8 453.2L469.0 450.8L471.3 449.2L473.5 448.9L475.8 448.2L478.0 447.6L480.2 444.4L482.5 440.9L484.7 442.8L486.9 446.3L489.2 448.7L491.4 451.2L493.7 451.8L495.9 452.1L498.1 452.8L500.4 452.9L502.6 453.3L504.9 452.6L507.1 451.7L509.3 447.9L511.6 440.6L513.8 443.2L516.0 445.8L518.3 446.2L520.5 446.2L522.8 446.9L525.0 447.3L527.2 448.1L529.5 449.4L531.7 448.3L533.9 448.7L536.2 449.3L538.4 448.5L540.7 448.4L542.9 448.8L545.1 448.9L547.4 448.7L549.6 448.7L551.9 448.8L554.1 449.6L556.3 451.0L558.6 451.0L560.8 451.4L563.0 450.9L565.3 450.6L567.5 451.0L569.8 450.9L572.0 450.7L574.2 451.7L576.5 450.3L578.7 450.4L580.9 451.3L583.2 450.4L585.4 449.3L587.7 448.4L589.9 449.9L592.1 449.3L594.4 447.4L596.6 447.1L598.9 446.7L601.1 448.3L603.3 446.5L605.6 446.2L607.8 447.4L610.0 447.9L612.3 448.4L614.5 448.7L616.8 448.4L619.0 449.3L621.2 448.8L623.5 449.0L625.7 449.7L627.9 449.9L630.2 448.4L632.4 449.3L634.7 450.0L636.9 449.1L639.1 448.5L641.4 450.0L643.6 449.8L645.8 449.4L648.1 448.6L650.3 446.7L652.6 442.6L654.8 446.9L657.0 445.8L659.3 446.7L661.5 445.4L663.8 446.1L666.0 446.9L668.2 449.3L670.5 448.3L672.7 448.7L674.9 448.2L677.2 448.5L679.4 447.7L681.7 447.3L683.9 445.2L686.1 446.7L688.4 447.4L690.6 449.1L692.8 449.4L695.1 452.0L697.3 448.5L699.6 447.1L701.8 445.5L704.0 443.5L706.3 444.0L708.5 442.2L710.8 445.0L713.0 443.2L715.2 442.8L717.5 444.6L719.7 446.5L721.9 446.9L724.2 444.9L726.4 450.8L728.7 449.9L730.9 449.0L733.1 449.4L735.4 450.0L737.6 450.2L739.8 450.6L742.1 451.1L744.3 451.3L746.6 450.2L748.8 450.4L751.0 449.4L753.3 443.0" stroke="#4472c4"/>
<path d="M95.3 391.8L97.5 384.6L99.8 398.9L102.0 393.2L104.3 387.5L106.5 396.4L108.7 405.4L111.0 397.5L113.2 397.5L115.4 407.2L117.7 416.8L119.9 416.1L122.2 406.1L124.4 409.1L126.6 412.2L128.9 403.4L131.1 394.6L133.3 396.8L135.6 398.9L137.8 388.5L140.1 384.1L142.3 379.6L144.5 378.9L146.8 372.1L149.0 365.2L151.2 365.2L153.5 377.4L155.7 380.3L158.0 371.7L160.2 374.2L162.4 387.5L164.7 381.7L166.9 376.0L169.2 384.2L171.4 392.5L173.6 385.3L175.9 378.1L178.1 387.5L180.3 388.2L182.6 398.2L184.8 391.8L187.1 385.3L189.3 393.9L191.5 402.5L193.8 396.8L196.0 391.0L198.2 398.4L200.5 405.7L202.7 398.4L205.0 391.0L207.2 396.0L209.4 400.9L211.7 394.0L213.9 387.1L216.2 394.6L218.4 386.0L220.6 377.4L222.9 378.1L225.1 385.7L227.3 378.5L229.6 386.0L231.8 380.7L234.1 387.9L236.3 395.2L238.5 401.0L240.8 406.8L243.0 407.2L245.2 414.9L247.5 422.6L249.7 416.1L252.0 417.2L254.2 428.7L256.4 426.3L258.7 424.0L260.9 428.7L263.1 433.3L265.4 431.0L267.6 428.7L269.9 431.9L272.1 435.1L274.3 435.1L276.6 426.1L278.8 426.3L281.1 426.5L283.3 421.3L285.5 416.1L287.8 427.6L290.0 421.1L292.2 437.2L294.5 440.1L296.7 444.1L299.0 448.7L301.2 450.1L303.4 451.6L305.7 451.2L307.9 451.8L310.1 453.7L312.4 453.7L314.6 452.3L316.9 450.6L319.1 448.7L321.3 449.5L323.6 448.9L325.8 448.9L328.1 453.2L330.3 453.9L332.5 453.1L334.8 453.0L337.0 452.2L339.2 451.7L341.5 451.9L343.7 452.8L346.0 453.0L348.2 453.5L350.4 453.6L352.7 453.2L354.9 452.0L357.1 451.9L359.4 450.7L361.6 448.6L363.9 448.3L366.1 452.5L368.3 453.4L370.6 454.0L372.8 453.6L375.1 454.2L377.3 453.7L379.5 452.6L381.8 453.2L384.0 454.1L386.2 452.5L388.5 452.6L390.7 452.6L393.0 452.2L395.2 452.2L397.4 451.8L399.7 452.4L401.9 450.9L404.1 450.6L406.4 451.9L408.6 447.1L410.9 443.6L413.1 446.8L415.3 449.4L417.6 445.3L419.8 440.3L422.0 442.8L424.3 443.7L426.5 447.7L428.8 449.7L431.0 451.0L433.2 453.1L435.5 451.8L437.7 450.0L440.0 449.3L442.2 450.0L444.4 450.7L446.7 451.3L448.9 451.4L451.1 453.2L453.4 452.5L455.6 453.7L457.9 452.4L460.1 453.5L462.3 452.1L464.6 452.3L466.8 452.4L469.0 452.1L471.3 451.6L473.5 451.4L475.8 450.1L478.0 448.4L480.2 445.9L482.5 443.2L484.7 445.7L486.9 448.7L489.2 449.1L491.4 450.5L493.7 451.4L495.9 454.0L498.1 452.8L500.4 454.1L502.6 452.8L504.9 453.5L507.1 453.6L509.3 448.7L511.6 446.6L513.8 448.5L516.0 450.5L518.3 451.8L520.5 452.0L522.8 450.8L525.0 451.9L527.2 451.4L529.5 452.9L531.7 452.1L533.9 452.4L536.2 451.4L538.4 452.5L540.7 450.7L542.9 452.6L545.1 451.3L547.4 452.9L549.6 452.5L551.9 451.5L554.1 452.9L556.3 453.0L558.6 452.1L560.8 452.8L563.0 453.6L565.3 451.2L567.5 452.5L569.8 452.3L572.0 451.2L574.2 450.3L576.5 450.4L578.7 452.1L580.9 452.1L583.2 453.2L585.4 452.8L587.7 451.1L589.9 450.2L592.1 448.8L594.4 448.1L596.6 446.9L598.9 451.5L601.1 450.9L603.3 450.3L605.6 450.5L607.8 452.3L610.0 452.6L612.3 451.8L614.5 450.8L616.8 452.1L619.0 451.0L621.2 451.7L623.5 451.8L625.7 452.8L627.9 451.4L630.2 453.1L632.4 452.3L634.7 452.6L636.9 453.3L639.1 452.1L641.4 452.9L643.6 452.9L645.8 452.9L648.1 450.2L650.3 448.0L652.6 444.5L654.8 448.5L657.0 451.3L659.3 451.3L661.5 451.0L663.8 452.4L666.0 451.8L668.2 452.1L670.5 451.2L672.7 451.0L674.9 450.4L677.2 450.4L679.4 451.7L681.7 451.7L683.9 451.9L686.1 453.1L688.4 453.2L690.6 452.7L692.8 453.4L695.1 452.2L697.3 453.2L699.6 450.2L701.8 446.8L704.0 446.3L706.3 445.8L708.5 444.7L710.8 444.3L713.0 444.1L715.2 443.9L717.5 445.3L719.7 446.8L721.9 449.0L724.2 451.8L726.4 451.7L728.7 450.8L730.9 450.0L733.1 452.0L735.4 452.2L737.6 453.0L739.8 453.6L742.1 453.8L744.3 452.4L746.6 453.3L748.8 452.1L751.0 450.4L753.3 447.4" stroke="#ed7d31"/>
<path d="M95.3 371.0L97.5 378.1L99.8 370.1L102.0 362.0L104.3 365.4L106.5 368.8L108.7 360.2L111.0 351.6L113.2 357.0L115.4 362.4L117.7 354.9L119.9 347.3L122.2 344.8L124.4 342.3L126.6 339.8L128.9 331.9L131.1 333.0L133.3 334.1L135.6 323.9L137.8 313.7L140.1 319.8L142.3 320.1L144.5 325.0L146.8 329.8L149.0 342.0L151.2 340.2L153.5 339.8L155.7 346.4L158.0 353.1L160.2 349.5L162.4 357.0L164.7 364.5L166.9 362.7L169.2 361.0L171.4 368.5L173.6 376.0L175.9 374.0L178.1 372.1L180.3 386.0L182.6 387.5L184.8 388.9L187.1 388.5L189.3 394.3L191.5 386.6L193.8 378.9L196.0 378.5L198.2 371.9L200.5 365.2L202.7 363.8L205.0 358.8L207.2 353.8L209.4 350.9L211.7 348.1L213.9 342.0L216.2 338.9L218.4 335.8L220.6 332.7L222.9 329.1L225.1 325.5L227.3 321.9L229.6 321.5L231.8 316.5L234.1 319.0L236.3 328.4L238.5 326.2L240.8 328.4L243.0 339.1L245.2 339.6L247.5 340.2L249.7 353.8L252.0 354.1L254.2 354.5L256.4 362.0L258.7 369.5L260.9 368.8L263.1 372.4L265.4 376.0L267.6 385.3L269.9 377.8L272.1 380.3L274.3 376.4L276.6 372.4L278.8 374.6L281.1 376.7L283.3 378.9L285.5 381.0L287.8 393.2L290.0 416.1L292.2 426.7L294.5 437.2L296.7 440.7L299.0 444.1L301.2 447.8L303.4 451.6L305.7 452.8L307.9 452.9L310.1 453.2L312.4 452.6L314.6 452.5L316.9 453.5L319.1 453.1L321.3 451.0L323.6 451.7L325.8 452.5L328.1 451.7L330.3 453.4L332.5 452.5L334.8 453.1L337.0 452.6L339.2 453.4L341.5 452.5L343.7 452.1L346.0 452.8L348.2 452.5L350.4 452.7L352.7 453.6L354.9 452.0L357.1 452.0L359.4 452.3L361.6 451.6L363.9 448.7L366.1 451.1L368.3 452.2L370.6 452.1L372.8 452.7L375.1 452.5L377.3 453.7L379.5 453.1L381.8 453.7L384.0 452.6L386.2 452.7L388.5 454.1L390.7 453.9L393.0 453.7L395.2 452.1L397.4 452.9L399.7 452.2L401.9 452.5L404.1 451.8L406.4 451.8L408.6 448.8L410.9 445.3L413.1 447.6L415.3 449.3L417.6 446.0L419.8 441.8L422.0 443.3L424.3 444.5L426.5 448.0L428.8 451.9L431.0 450.4L433.2 450.0L435.5 450.0L437.7 450.5L440.0 450.1L442.2 451.4L444.4 450.6L446.7 451.6L448.9 452.7L451.1 453.7L453.4 452.7L455.6 452.3L457.9 454.0L460.1 452.5L462.3 453.3L464.6 453.7L466.8 453.0L469.0 451.6L471.3 450.9L473.5 452.1L475.8 449.6L478.0 449.3L480.2 446.5L482.5 445.8L484.7 446.4L486.9 447.9L489.2 450.5L491.4 450.2L493.7 452.3L495.9 453.5L498.1 453.2L500.4 454.2L502.6 453.7L504.9 453.1L507.1 452.6L509.3 453.3L511.6 448.6L513.8 448.9L516.0 451.9L518.3 450.7L520.5 450.9L522.8 452.0L525.0 451.9L527.2 451.8L529.5 451.6L531.7 451.7L533.9 451.9L536.2 451.8L538.4 451.2L540.7 452.1L542.9 452.3L545.1 451.7L547.4 452.7L549.6 452.7L551.9 451.3L554.1 452.3L556.3 452.2L558.6 453.3L560.8 452.5L563.0 452.1L565.3 453.3L567.5 452.1L569.8 452.0L572.0 453.2L574.2 452.0L576.5 452.0L578.7 451.2L580.9 451.5L583.2 450.4L585.4 450.0L587.7 451.1L589.9 450.7L592.1 449.1L594.4 448.1L596.6 449.2L598.9 450.6L601.1 452.1L603.3 452.7L605.6 452.6L607.8 452.7L610.0 452.6L612.3 452.1L614.5 452.7L616.8 452.5L619.0 451.7L621.2 453.3L623.5 452.2L625.7 451.9L627.9 452.8L630.2 453.0L632.4 451.9L634.7 453.0L636.9 453.2L639.1 452.7L641.4 452.2L643.6 453.4L645.8 451.4L648.1 449.8L650.3 447.1L652.6 446.3L654.8 448.4L657.0 452.6L659.3 452.3L661.5 451.6L663.8 451.2L666.0 452.0L668.2 452.5L670.5 452.7L672.7 451.9L674.9 452.6L677.2 451.5L679.4 451.5L681.7 453.0L683.9 452.9L686.1 452.0L688.4 452.5L690.6 452.3L692.8 453.3L695.1 452.2L697.3 450.4L699.6 447.9L701.8 447.4L704.0 446.8L706.3 446.2L708.5 445.7L710.8 445.3L713.0 444.5L715.2 446.3L717.5 446.8L719.7 447.2L721.9 449.6L724.2 451.7L726.4 452.4L728.7 451.0L730.9 450.7L733.1 451.8L735.4 451.6L737.6 452.2L739.8 453.4L742.1 453.7L744.3 454.1L746.6 454.0L748.8 453.4L751.0 452.8L753.3 448.9" stroke="#a5a5a5"/>
<path d="M95.3 302.9L97.5 300.4L99.8 320.8L102.0 309.2L104.3 297.6L106.5 313.5L108.7 329.4L111.0 315.8L113.2 319.8L115.4 340.0L117.7 360.2L119.9 348.8L122.2 339.1L124.4 345.5L126.6 358.8L128.9 346.4L131.1 334.1L133.3 343.6L135.6 353.1L137.8 348.8L140.1 336.2L142.3 332.3L144.5 328.4L146.8 307.9L149.0 287.5L151.2 286.4L153.5 311.2L155.7 311.2L158.0 290.4L160.2 305.1L162.4 319.8L164.7 305.6L166.9 291.5L169.2 304.9L171.4 318.3L173.6 303.1L175.9 287.9L178.1 307.9L180.3 303.6L182.6 323.3L184.8 309.0L187.1 294.7L189.3 311.5L191.5 328.4L193.8 318.1L196.0 307.9L198.2 324.2L200.5 340.5L202.7 328.0L205.0 315.5L207.2 329.3L209.4 343.0L211.7 331.5L213.9 319.9L216.2 329.2L218.4 338.4L220.6 314.4L222.9 314.4L225.1 332.7L227.3 323.3L229.6 339.8L231.8 339.5L234.1 355.9L236.3 353.8L238.5 364.9L240.8 376.0L243.0 368.8L245.2 377.4L247.5 386.0L249.7 379.9L252.0 373.8L254.2 384.6L256.4 379.6L258.7 374.6L260.9 380.3L263.1 386.0L265.4 381.4L267.6 376.7L269.9 381.7L272.1 386.7L274.3 381.7L276.6 376.7L278.8 368.1L281.1 371.0L283.3 368.1L285.5 368.8L287.8 369.5L290.0 374.2L292.2 378.9L294.5 394.6L296.7 416.1L299.0 441.5L301.2 448.4L303.4 452.3L305.7 453.0L307.9 453.4L310.1 452.9L312.4 453.6L314.6 453.9L316.9 452.3L319.1 450.4L321.3 450.1L323.6 449.7L325.8 450.3L328.1 453.7L330.3 453.8L332.5 453.7L334.8 453.4L337.0 452.9L339.2 451.6L341.5 451.9L343.7 452.1L346.0 452.3L348.2 453.6L350.4 453.0L352.7 451.9L354.9 451.3L357.1 450.7L359.4 449.4L361.6 449.7L363.9 447.4L366.1 451.9L368.3 452.6L370.6 453.5L372.8 453.2L375.1 454.3L377.3 452.9L379.5 452.9L381.8 453.4L384.0 453.8L386.2 452.5L388.5 453.1L390.7 452.3L393.0 452.3L395.2 452.6L397.4 452.3L399.7 451.6L401.9 451.5L404.1 451.6L406.4 450.9L408.6 446.1L410.9 443.9L413.1 446.9L415.3 448.8L417.6 445.2L419.8 440.4L422.0 442.3L424.3 444.4L426.5 445.9L428.8 450.4L431.0 451.4L433.2 453.2L435.5 452.6L437.7 453.5L440.0 449.7L442.2 448.9L444.4 449.8L446.7 450.3L448.9 450.6L451.1 453.2L453.4 454.2L455.6 453.8L457.9 452.7L460.1 452.9L462.3 453.5L464.6 453.1L466.8 453.2L469.0 452.4L471.3 453.1L473.5 451.5L475.8 449.2L478.0 447.1L480.2 445.6L482.5 443.1L484.7 447.1L486.9 448.5L489.2 449.2L491.4 450.8L493.7 452.7L495.9 452.8L498.1 453.3L500.4 452.8L502.6 453.7L504.9 453.8L507.1 453.1L509.3 449.8L511.6 445.4L513.8 447.4L516.0 451.9L518.3 452.6L520.5 452.6L522.8 452.4L525.0 451.2L527.2 452.2L529.5 452.4L531.7 452.6L533.9 450.7L536.2 451.7L538.4 451.9L540.7 452.1L542.9 452.3L545.1 452.2L547.4 451.4L549.6 452.6L551.9 453.0L554.1 452.3L556.3 453.0L558.6 451.7L560.8 453.6L563.0 453.0L565.3 452.4L567.5 453.1L569.8 451.9L572.0 452.9L574.2 453.3L576.5 453.0L578.7 453.7L580.9 452.9L583.2 453.2L585.4 451.9L587.7 450.8L589.9 450.2L592.1 449.9L594.4 448.3L596.6 447.1L598.9 452.9L601.1 451.4L603.3 448.7L605.6 451.4L607.8 452.8L610.0 451.2L612.3 452.0L614.5 451.3L616.8 452.6L619.0 451.7L621.2 452.3L623.5 452.1L625.7 452.3L627.9 452.9L630.2 453.8L632.4 453.4L634.7 451.8L636.9 451.6L639.1 451.3L641.4 452.3L643.6 451.5L645.8 451.0L648.1 448.7L650.3 445.7L652.6 443.6L654.8 447.5L657.0 451.6L659.3 452.3L661.5 450.8L663.8 450.6L666.0 452.2L668.2 450.3L670.5 450.4L672.7 451.1L674.9 452.4L677.2 450.8L679.4 452.5L681.7 450.9L683.9 451.6L686.1 453.0L688.4 453.0L690.6 452.2L692.8 452.5L695.1 452.3L697.3 452.2L699.6 449.8L701.8 446.5L704.0 444.5L706.3 446.2L708.5 444.4L710.8 446.1L713.0 445.0L715.2 445.3L717.5 445.4L719.7 446.5L721.9 448.8L724.2 453.2L726.4 451.5L728.7 451.3L730.9 449.4L733.1 450.3L735.4 451.6L737.6 452.2L739.8 453.1L742.1 452.9L744.3 451.6L746.6 451.6L748.8 449.8L751.0 449.2L753.3 447.6" stroke="#ffc000"/>
</g>
<path d="M203.9 517.7h17.0" stroke="#4472c4" stroke-width="1.8"/>
<text x="221.8" y="522.7" font-family='"Liberation Serif", serif' font-size="15.60" font-weight="bold" text-anchor="start" fill="#000" textLength="72.3" lengthAdjust="spacingAndGlyphs">SAXSDom</text>
<path d="M311.8 517.7h17.0" stroke="#ed7d31" stroke-width="1.8"/>
<text x="329.5" y="522.7" font-family='"Liberation Serif", serif' font-size="15.60" font-weight="bold" text-anchor="start" fill="#000" textLength="130.6" lengthAdjust="spacingAndGlyphs">SAXSDom-abinitio</text>
<path d="M477.0 517.7h17.0" stroke="#a5a5a5" stroke-width="1.8"/>
<text x="494.6" y="522.7" font-family='"Liberation Serif", serif' font-size="15.60" font-weight="bold" text-anchor="start" fill="#000" textLength="40.2" lengthAdjust="spacingAndGlyphs">AIDA</text>
<path d="M551.9 517.7h17.0" stroke="#ffc000" stroke-width="1.8"/>
<text x="569.5" y="522.7" font-family='"Liberation Serif", serif' font-size="15.60" font-weight="bold" text-anchor="start" fill="#000" textLength="61.6" lengthAdjust="spacingAndGlyphs">Modeller</text>
</svg>
</body></html>
